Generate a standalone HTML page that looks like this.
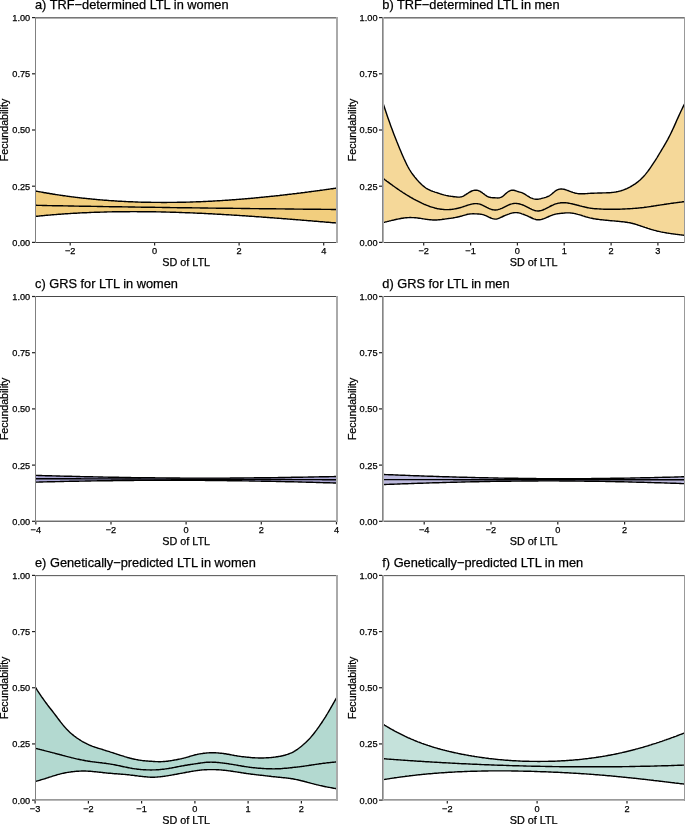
<!DOCTYPE html>
<html><head><meta charset="utf-8"><style>
html,body{margin:0;padding:0;background:#fff;width:685px;height:824px;overflow:hidden}
svg{display:block;will-change:transform}
text{font-family:"Liberation Sans",sans-serif;fill:#000000;stroke:#000000;stroke-width:0.25px}
</style></head><body>
<svg width="685" height="824" viewBox="0 0 685 824">
<rect x="0" y="0" width="685" height="824" fill="#fff"/>
<path d="M35.5,191.0L36.5,191.2L37.5,191.4L38.5,191.6L39.5,191.8L40.5,191.9L41.5,192.1L42.5,192.3L43.5,192.5L44.5,192.7L45.5,192.8L46.5,193.0L47.5,193.2L48.5,193.3L49.5,193.5L50.5,193.7L51.5,193.8L52.5,194.0L53.5,194.2L54.5,194.3L55.5,194.5L56.5,194.6L57.5,194.8L58.5,194.9L59.5,195.1L60.5,195.2L61.5,195.4L62.5,195.5L63.5,195.7L64.5,195.8L65.5,195.9L66.5,196.1L67.5,196.2L68.5,196.4L69.5,196.5L70.5,196.6L71.5,196.8L72.5,196.9L73.5,197.0L74.5,197.1L75.5,197.3L76.5,197.4L77.5,197.5L78.5,197.6L79.5,197.7L80.5,197.9L81.5,198.0L82.5,198.1L83.5,198.2L84.5,198.3L85.5,198.4L86.5,198.5L87.5,198.6L88.5,198.7L89.5,198.8L90.5,198.9L91.5,199.0L92.5,199.1L93.5,199.2L94.5,199.3L95.5,199.4L96.5,199.5L97.5,199.6L98.5,199.7L99.5,199.8L100.5,199.9L101.5,199.9L102.5,200.0L103.5,200.1L104.5,200.2L105.5,200.3L106.5,200.3L107.5,200.4L108.5,200.5L109.5,200.6L110.5,200.6L111.5,200.7L112.5,200.8L113.5,200.8L114.5,200.9L115.5,201.0L116.5,201.0L117.5,201.1L118.5,201.2L119.5,201.2L120.5,201.3L121.5,201.3L122.5,201.4L123.5,201.4L124.5,201.5L125.5,201.5L126.5,201.6L127.5,201.6L128.5,201.7L129.5,201.7L130.5,201.8L131.5,201.8L132.5,201.8L133.5,201.9L134.5,201.9L135.5,202.0L136.5,202.0L137.5,202.0L138.5,202.1L139.5,202.1L140.5,202.1L141.5,202.2L142.5,202.2L143.5,202.2L144.5,202.2L145.5,202.3L146.5,202.3L147.5,202.3L148.5,202.3L149.5,202.3L150.5,202.3L151.5,202.4L152.5,202.4L153.5,202.4L154.5,202.4L155.5,202.4L156.5,202.4L157.5,202.4L158.5,202.4L159.5,202.4L160.5,202.4L161.5,202.5L162.5,202.5L163.5,202.5L164.5,202.5L165.5,202.5L166.5,202.5L167.5,202.4L168.5,202.4L169.5,202.4L170.5,202.4L171.5,202.4L172.5,202.4L173.5,202.4L174.5,202.4L175.5,202.4L176.5,202.4L177.5,202.3L178.5,202.3L179.5,202.3L180.5,202.3L181.5,202.3L182.5,202.2L183.5,202.2L184.5,202.2L185.5,202.2L186.5,202.1L187.5,202.1L188.5,202.1L189.5,202.1L190.5,202.0L191.5,202.0L192.5,202.0L193.5,201.9L194.5,201.9L195.5,201.9L196.5,201.8L197.5,201.8L198.5,201.8L199.5,201.7L200.5,201.7L201.5,201.6L202.5,201.6L203.5,201.5L204.5,201.5L205.5,201.5L206.5,201.4L207.5,201.4L208.5,201.3L209.5,201.3L210.5,201.2L211.5,201.2L212.5,201.1L213.5,201.0L214.5,201.0L215.5,200.9L216.5,200.9L217.5,200.8L218.5,200.8L219.5,200.7L220.5,200.6L221.5,200.6L222.5,200.5L223.5,200.4L224.5,200.4L225.5,200.3L226.5,200.2L227.5,200.2L228.5,200.1L229.5,200.0L230.5,200.0L231.5,199.9L232.5,199.8L233.5,199.7L234.5,199.7L235.5,199.6L236.5,199.5L237.5,199.4L238.5,199.4L239.5,199.3L240.5,199.2L241.5,199.1L242.5,199.0L243.5,199.0L244.5,198.9L245.5,198.8L246.5,198.7L247.5,198.6L248.5,198.5L249.5,198.5L250.5,198.4L251.5,198.3L252.5,198.2L253.5,198.1L254.5,198.0L255.5,197.9L256.5,197.8L257.5,197.7L258.5,197.6L259.5,197.5L260.5,197.4L261.5,197.3L262.5,197.2L263.5,197.1L264.5,197.0L265.5,196.9L266.5,196.8L267.5,196.7L268.5,196.6L269.5,196.5L270.5,196.4L271.5,196.3L272.5,196.2L273.5,196.1L274.5,196.0L275.5,195.9L276.5,195.8L277.5,195.7L278.5,195.6L279.5,195.5L280.5,195.3L281.5,195.2L282.5,195.1L283.5,195.0L284.5,194.9L285.5,194.8L286.5,194.7L287.5,194.5L288.5,194.4L289.5,194.3L290.5,194.2L291.5,194.1L292.5,193.9L293.5,193.8L294.5,193.7L295.5,193.6L296.5,193.5L297.5,193.3L298.5,193.2L299.5,193.1L300.5,193.0L301.5,192.8L302.5,192.7L303.5,192.6L304.5,192.5L305.5,192.3L306.5,192.2L307.5,192.1L308.5,191.9L309.5,191.8L310.5,191.7L311.5,191.5L312.5,191.4L313.5,191.3L314.5,191.1L315.5,191.0L316.5,190.9L317.5,190.7L318.5,190.6L319.5,190.5L320.5,190.3L321.5,190.2L322.5,190.1L323.5,189.9L324.5,189.8L325.5,189.6L326.5,189.5L327.5,189.4L328.5,189.2L329.5,189.1L330.5,188.9L331.5,188.8L332.5,188.7L333.5,188.5L334.5,188.4L335.5,188.2L336.5,188.1L337.0,188.0L337.0,223.0L336.5,223.0L335.5,222.9L334.5,222.8L333.5,222.7L332.5,222.7L331.5,222.6L330.5,222.5L329.5,222.4L328.5,222.3L327.5,222.2L326.5,222.2L325.5,222.1L324.5,222.0L323.5,221.9L322.5,221.8L321.5,221.7L320.5,221.7L319.5,221.6L318.5,221.5L317.5,221.4L316.5,221.3L315.5,221.3L314.5,221.2L313.5,221.1L312.5,221.0L311.5,220.9L310.5,220.8L309.5,220.8L308.5,220.7L307.5,220.6L306.5,220.5L305.5,220.4L304.5,220.4L303.5,220.3L302.5,220.2L301.5,220.1L300.5,220.0L299.5,219.9L298.5,219.9L297.5,219.8L296.5,219.7L295.5,219.6L294.5,219.5L293.5,219.5L292.5,219.4L291.5,219.3L290.5,219.2L289.5,219.1L288.5,219.1L287.5,219.0L286.5,218.9L285.5,218.8L284.5,218.8L283.5,218.7L282.5,218.6L281.5,218.5L280.5,218.4L279.5,218.4L278.5,218.3L277.5,218.2L276.5,218.1L275.5,218.1L274.5,218.0L273.5,217.9L272.5,217.8L271.5,217.8L270.5,217.7L269.5,217.6L268.5,217.5L267.5,217.5L266.5,217.4L265.5,217.3L264.5,217.2L263.5,217.2L262.5,217.1L261.5,217.0L260.5,216.9L259.5,216.9L258.5,216.8L257.5,216.7L256.5,216.7L255.5,216.6L254.5,216.5L253.5,216.4L252.5,216.4L251.5,216.3L250.5,216.2L249.5,216.2L248.5,216.1L247.5,216.0L246.5,216.0L245.5,215.9L244.5,215.8L243.5,215.8L242.5,215.7L241.5,215.6L240.5,215.6L239.5,215.5L238.5,215.4L237.5,215.4L236.5,215.3L235.5,215.2L234.5,215.2L233.5,215.1L232.5,215.1L231.5,215.0L230.5,214.9L229.5,214.9L228.5,214.8L227.5,214.7L226.5,214.7L225.5,214.6L224.5,214.6L223.5,214.5L222.5,214.5L221.5,214.4L220.5,214.3L219.5,214.3L218.5,214.2L217.5,214.2L216.5,214.1L215.5,214.1L214.5,214.0L213.5,214.0L212.5,213.9L211.5,213.8L210.5,213.8L209.5,213.7L208.5,213.7L207.5,213.6L206.5,213.6L205.5,213.5L204.5,213.5L203.5,213.4L202.5,213.4L201.5,213.3L200.5,213.3L199.5,213.3L198.5,213.2L197.5,213.2L196.5,213.1L195.5,213.1L194.5,213.0L193.5,213.0L192.5,212.9L191.5,212.9L190.5,212.9L189.5,212.8L188.5,212.8L187.5,212.7L186.5,212.7L185.5,212.7L184.5,212.6L183.5,212.6L182.5,212.6L181.5,212.5L180.5,212.5L179.5,212.5L178.5,212.4L177.5,212.4L176.5,212.4L175.5,212.3L174.5,212.3L173.5,212.3L172.5,212.2L171.5,212.2L170.5,212.2L169.5,212.1L168.5,212.1L167.5,212.1L166.5,212.1L165.5,212.0L164.5,212.0L163.5,212.0L162.5,212.0L161.5,212.0L160.5,211.9L159.5,211.9L158.5,211.9L157.5,211.9L156.5,211.9L155.5,211.8L154.5,211.8L153.5,211.8L152.5,211.8L151.5,211.8L150.5,211.8L149.5,211.7L148.5,211.7L147.5,211.7L146.5,211.7L145.5,211.7L144.5,211.7L143.5,211.7L142.5,211.7L141.5,211.7L140.5,211.7L139.5,211.7L138.5,211.7L137.5,211.7L136.5,211.6L135.5,211.6L134.5,211.6L133.5,211.6L132.5,211.6L131.5,211.6L130.5,211.6L129.5,211.7L128.5,211.7L127.5,211.7L126.5,211.7L125.5,211.7L124.5,211.7L123.5,211.7L122.5,211.7L121.5,211.7L120.5,211.7L119.5,211.7L118.5,211.7L117.5,211.8L116.5,211.8L115.5,211.8L114.5,211.8L113.5,211.8L112.5,211.8L111.5,211.9L110.5,211.9L109.5,211.9L108.5,211.9L107.5,211.9L106.5,212.0L105.5,212.0L104.5,212.0L103.5,212.1L102.5,212.1L101.5,212.1L100.5,212.1L99.5,212.2L98.5,212.2L97.5,212.2L96.5,212.3L95.5,212.3L94.5,212.3L93.5,212.4L92.5,212.4L91.5,212.4L90.5,212.5L89.5,212.5L88.5,212.6L87.5,212.6L86.5,212.7L85.5,212.7L84.5,212.8L83.5,212.8L82.5,212.8L81.5,212.9L80.5,212.9L79.5,213.0L78.5,213.0L77.5,213.1L76.5,213.2L75.5,213.2L74.5,213.3L73.5,213.3L72.5,213.4L71.5,213.4L70.5,213.5L69.5,213.6L68.5,213.6L67.5,213.7L66.5,213.8L65.5,213.8L64.5,213.9L63.5,214.0L62.5,214.0L61.5,214.1L60.5,214.2L59.5,214.3L58.5,214.3L57.5,214.4L56.5,214.5L55.5,214.6L54.5,214.6L53.5,214.7L52.5,214.8L51.5,214.9L50.5,215.0L49.5,215.1L48.5,215.1L47.5,215.2L46.5,215.3L45.5,215.4L44.5,215.5L43.5,215.6L42.5,215.7L41.5,215.8L40.5,215.9L39.5,216.0L38.5,216.1L37.5,216.2L36.5,216.3L35.5,216.4Z" fill="#F2CE7E" stroke="none"/>
<path d="M35.5,191.0L36.5,191.2L37.5,191.4L38.5,191.6L39.5,191.8L40.5,191.9L41.5,192.1L42.5,192.3L43.5,192.5L44.5,192.7L45.5,192.8L46.5,193.0L47.5,193.2L48.5,193.3L49.5,193.5L50.5,193.7L51.5,193.8L52.5,194.0L53.5,194.2L54.5,194.3L55.5,194.5L56.5,194.6L57.5,194.8L58.5,194.9L59.5,195.1L60.5,195.2L61.5,195.4L62.5,195.5L63.5,195.7L64.5,195.8L65.5,195.9L66.5,196.1L67.5,196.2L68.5,196.4L69.5,196.5L70.5,196.6L71.5,196.8L72.5,196.9L73.5,197.0L74.5,197.1L75.5,197.3L76.5,197.4L77.5,197.5L78.5,197.6L79.5,197.7L80.5,197.9L81.5,198.0L82.5,198.1L83.5,198.2L84.5,198.3L85.5,198.4L86.5,198.5L87.5,198.6L88.5,198.7L89.5,198.8L90.5,198.9L91.5,199.0L92.5,199.1L93.5,199.2L94.5,199.3L95.5,199.4L96.5,199.5L97.5,199.6L98.5,199.7L99.5,199.8L100.5,199.9L101.5,199.9L102.5,200.0L103.5,200.1L104.5,200.2L105.5,200.3L106.5,200.3L107.5,200.4L108.5,200.5L109.5,200.6L110.5,200.6L111.5,200.7L112.5,200.8L113.5,200.8L114.5,200.9L115.5,201.0L116.5,201.0L117.5,201.1L118.5,201.2L119.5,201.2L120.5,201.3L121.5,201.3L122.5,201.4L123.5,201.4L124.5,201.5L125.5,201.5L126.5,201.6L127.5,201.6L128.5,201.7L129.5,201.7L130.5,201.8L131.5,201.8L132.5,201.8L133.5,201.9L134.5,201.9L135.5,202.0L136.5,202.0L137.5,202.0L138.5,202.1L139.5,202.1L140.5,202.1L141.5,202.2L142.5,202.2L143.5,202.2L144.5,202.2L145.5,202.3L146.5,202.3L147.5,202.3L148.5,202.3L149.5,202.3L150.5,202.3L151.5,202.4L152.5,202.4L153.5,202.4L154.5,202.4L155.5,202.4L156.5,202.4L157.5,202.4L158.5,202.4L159.5,202.4L160.5,202.4L161.5,202.5L162.5,202.5L163.5,202.5L164.5,202.5L165.5,202.5L166.5,202.5L167.5,202.4L168.5,202.4L169.5,202.4L170.5,202.4L171.5,202.4L172.5,202.4L173.5,202.4L174.5,202.4L175.5,202.4L176.5,202.4L177.5,202.3L178.5,202.3L179.5,202.3L180.5,202.3L181.5,202.3L182.5,202.2L183.5,202.2L184.5,202.2L185.5,202.2L186.5,202.1L187.5,202.1L188.5,202.1L189.5,202.1L190.5,202.0L191.5,202.0L192.5,202.0L193.5,201.9L194.5,201.9L195.5,201.9L196.5,201.8L197.5,201.8L198.5,201.8L199.5,201.7L200.5,201.7L201.5,201.6L202.5,201.6L203.5,201.5L204.5,201.5L205.5,201.5L206.5,201.4L207.5,201.4L208.5,201.3L209.5,201.3L210.5,201.2L211.5,201.2L212.5,201.1L213.5,201.0L214.5,201.0L215.5,200.9L216.5,200.9L217.5,200.8L218.5,200.8L219.5,200.7L220.5,200.6L221.5,200.6L222.5,200.5L223.5,200.4L224.5,200.4L225.5,200.3L226.5,200.2L227.5,200.2L228.5,200.1L229.5,200.0L230.5,200.0L231.5,199.9L232.5,199.8L233.5,199.7L234.5,199.7L235.5,199.6L236.5,199.5L237.5,199.4L238.5,199.4L239.5,199.3L240.5,199.2L241.5,199.1L242.5,199.0L243.5,199.0L244.5,198.9L245.5,198.8L246.5,198.7L247.5,198.6L248.5,198.5L249.5,198.5L250.5,198.4L251.5,198.3L252.5,198.2L253.5,198.1L254.5,198.0L255.5,197.9L256.5,197.8L257.5,197.7L258.5,197.6L259.5,197.5L260.5,197.4L261.5,197.3L262.5,197.2L263.5,197.1L264.5,197.0L265.5,196.9L266.5,196.8L267.5,196.7L268.5,196.6L269.5,196.5L270.5,196.4L271.5,196.3L272.5,196.2L273.5,196.1L274.5,196.0L275.5,195.9L276.5,195.8L277.5,195.7L278.5,195.6L279.5,195.5L280.5,195.3L281.5,195.2L282.5,195.1L283.5,195.0L284.5,194.9L285.5,194.8L286.5,194.7L287.5,194.5L288.5,194.4L289.5,194.3L290.5,194.2L291.5,194.1L292.5,193.9L293.5,193.8L294.5,193.7L295.5,193.6L296.5,193.5L297.5,193.3L298.5,193.2L299.5,193.1L300.5,193.0L301.5,192.8L302.5,192.7L303.5,192.6L304.5,192.5L305.5,192.3L306.5,192.2L307.5,192.1L308.5,191.9L309.5,191.8L310.5,191.7L311.5,191.5L312.5,191.4L313.5,191.3L314.5,191.1L315.5,191.0L316.5,190.9L317.5,190.7L318.5,190.6L319.5,190.5L320.5,190.3L321.5,190.2L322.5,190.1L323.5,189.9L324.5,189.8L325.5,189.6L326.5,189.5L327.5,189.4L328.5,189.2L329.5,189.1L330.5,188.9L331.5,188.8L332.5,188.7L333.5,188.5L334.5,188.4L335.5,188.2L336.5,188.1L337.0,188.0" fill="none" stroke="#000000" stroke-width="1.4" stroke-linejoin="round"/>
<path d="M35.5,216.4L36.5,216.3L37.5,216.2L38.5,216.1L39.5,216.0L40.5,215.9L41.5,215.8L42.5,215.7L43.5,215.6L44.5,215.5L45.5,215.4L46.5,215.3L47.5,215.2L48.5,215.1L49.5,215.1L50.5,215.0L51.5,214.9L52.5,214.8L53.5,214.7L54.5,214.6L55.5,214.6L56.5,214.5L57.5,214.4L58.5,214.3L59.5,214.3L60.5,214.2L61.5,214.1L62.5,214.0L63.5,214.0L64.5,213.9L65.5,213.8L66.5,213.8L67.5,213.7L68.5,213.6L69.5,213.6L70.5,213.5L71.5,213.4L72.5,213.4L73.5,213.3L74.5,213.3L75.5,213.2L76.5,213.2L77.5,213.1L78.5,213.0L79.5,213.0L80.5,212.9L81.5,212.9L82.5,212.8L83.5,212.8L84.5,212.8L85.5,212.7L86.5,212.7L87.5,212.6L88.5,212.6L89.5,212.5L90.5,212.5L91.5,212.4L92.5,212.4L93.5,212.4L94.5,212.3L95.5,212.3L96.5,212.3L97.5,212.2L98.5,212.2L99.5,212.2L100.5,212.1L101.5,212.1L102.5,212.1L103.5,212.1L104.5,212.0L105.5,212.0L106.5,212.0L107.5,211.9L108.5,211.9L109.5,211.9L110.5,211.9L111.5,211.9L112.5,211.8L113.5,211.8L114.5,211.8L115.5,211.8L116.5,211.8L117.5,211.8L118.5,211.7L119.5,211.7L120.5,211.7L121.5,211.7L122.5,211.7L123.5,211.7L124.5,211.7L125.5,211.7L126.5,211.7L127.5,211.7L128.5,211.7L129.5,211.7L130.5,211.6L131.5,211.6L132.5,211.6L133.5,211.6L134.5,211.6L135.5,211.6L136.5,211.6L137.5,211.7L138.5,211.7L139.5,211.7L140.5,211.7L141.5,211.7L142.5,211.7L143.5,211.7L144.5,211.7L145.5,211.7L146.5,211.7L147.5,211.7L148.5,211.7L149.5,211.7L150.5,211.8L151.5,211.8L152.5,211.8L153.5,211.8L154.5,211.8L155.5,211.8L156.5,211.9L157.5,211.9L158.5,211.9L159.5,211.9L160.5,211.9L161.5,212.0L162.5,212.0L163.5,212.0L164.5,212.0L165.5,212.0L166.5,212.1L167.5,212.1L168.5,212.1L169.5,212.1L170.5,212.2L171.5,212.2L172.5,212.2L173.5,212.3L174.5,212.3L175.5,212.3L176.5,212.4L177.5,212.4L178.5,212.4L179.5,212.5L180.5,212.5L181.5,212.5L182.5,212.6L183.5,212.6L184.5,212.6L185.5,212.7L186.5,212.7L187.5,212.7L188.5,212.8L189.5,212.8L190.5,212.9L191.5,212.9L192.5,212.9L193.5,213.0L194.5,213.0L195.5,213.1L196.5,213.1L197.5,213.2L198.5,213.2L199.5,213.3L200.5,213.3L201.5,213.3L202.5,213.4L203.5,213.4L204.5,213.5L205.5,213.5L206.5,213.6L207.5,213.6L208.5,213.7L209.5,213.7L210.5,213.8L211.5,213.8L212.5,213.9L213.5,214.0L214.5,214.0L215.5,214.1L216.5,214.1L217.5,214.2L218.5,214.2L219.5,214.3L220.5,214.3L221.5,214.4L222.5,214.5L223.5,214.5L224.5,214.6L225.5,214.6L226.5,214.7L227.5,214.7L228.5,214.8L229.5,214.9L230.5,214.9L231.5,215.0L232.5,215.1L233.5,215.1L234.5,215.2L235.5,215.2L236.5,215.3L237.5,215.4L238.5,215.4L239.5,215.5L240.5,215.6L241.5,215.6L242.5,215.7L243.5,215.8L244.5,215.8L245.5,215.9L246.5,216.0L247.5,216.0L248.5,216.1L249.5,216.2L250.5,216.2L251.5,216.3L252.5,216.4L253.5,216.4L254.5,216.5L255.5,216.6L256.5,216.7L257.5,216.7L258.5,216.8L259.5,216.9L260.5,216.9L261.5,217.0L262.5,217.1L263.5,217.2L264.5,217.2L265.5,217.3L266.5,217.4L267.5,217.5L268.5,217.5L269.5,217.6L270.5,217.7L271.5,217.8L272.5,217.8L273.5,217.9L274.5,218.0L275.5,218.1L276.5,218.1L277.5,218.2L278.5,218.3L279.5,218.4L280.5,218.4L281.5,218.5L282.5,218.6L283.5,218.7L284.5,218.8L285.5,218.8L286.5,218.9L287.5,219.0L288.5,219.1L289.5,219.1L290.5,219.2L291.5,219.3L292.5,219.4L293.5,219.5L294.5,219.5L295.5,219.6L296.5,219.7L297.5,219.8L298.5,219.9L299.5,219.9L300.5,220.0L301.5,220.1L302.5,220.2L303.5,220.3L304.5,220.4L305.5,220.4L306.5,220.5L307.5,220.6L308.5,220.7L309.5,220.8L310.5,220.8L311.5,220.9L312.5,221.0L313.5,221.1L314.5,221.2L315.5,221.3L316.5,221.3L317.5,221.4L318.5,221.5L319.5,221.6L320.5,221.7L321.5,221.7L322.5,221.8L323.5,221.9L324.5,222.0L325.5,222.1L326.5,222.2L327.5,222.2L328.5,222.3L329.5,222.4L330.5,222.5L331.5,222.6L332.5,222.7L333.5,222.7L334.5,222.8L335.5,222.9L336.5,223.0L337.0,223.0" fill="none" stroke="#000000" stroke-width="1.4" stroke-linejoin="round"/>
<path d="M35.5,205.3L36.5,205.3L37.5,205.4L38.5,205.4L39.5,205.4L40.5,205.4L41.5,205.4L42.5,205.5L43.5,205.5L44.5,205.5L45.5,205.5L46.5,205.5L47.5,205.6L48.5,205.6L49.5,205.6L50.5,205.6L51.5,205.6L52.5,205.7L53.5,205.7L54.5,205.7L55.5,205.7L56.5,205.7L57.5,205.7L58.5,205.8L59.5,205.8L60.5,205.8L61.5,205.8L62.5,205.8L63.5,205.9L64.5,205.9L65.5,205.9L66.5,205.9L67.5,205.9L68.5,206.0L69.5,206.0L70.5,206.0L71.5,206.0L72.5,206.0L73.5,206.0L74.5,206.1L75.5,206.1L76.5,206.1L77.5,206.1L78.5,206.1L79.5,206.2L80.5,206.2L81.5,206.2L82.5,206.2L83.5,206.2L84.5,206.2L85.5,206.3L86.5,206.3L87.5,206.3L88.5,206.3L89.5,206.3L90.5,206.3L91.5,206.4L92.5,206.4L93.5,206.4L94.5,206.4L95.5,206.4L96.5,206.4L97.5,206.5L98.5,206.5L99.5,206.5L100.5,206.5L101.5,206.5L102.5,206.5L103.5,206.6L104.5,206.6L105.5,206.6L106.5,206.6L107.5,206.6L108.5,206.6L109.5,206.7L110.5,206.7L111.5,206.7L112.5,206.7L113.5,206.7L114.5,206.7L115.5,206.8L116.5,206.8L117.5,206.8L118.5,206.8L119.5,206.8L120.5,206.8L121.5,206.8L122.5,206.9L123.5,206.9L124.5,206.9L125.5,206.9L126.5,206.9L127.5,206.9L128.5,207.0L129.5,207.0L130.5,207.0L131.5,207.0L132.5,207.0L133.5,207.0L134.5,207.0L135.5,207.1L136.5,207.1L137.5,207.1L138.5,207.1L139.5,207.1L140.5,207.1L141.5,207.2L142.5,207.2L143.5,207.2L144.5,207.2L145.5,207.2L146.5,207.2L147.5,207.2L148.5,207.3L149.5,207.3L150.5,207.3L151.5,207.3L152.5,207.3L153.5,207.3L154.5,207.3L155.5,207.4L156.5,207.4L157.5,207.4L158.5,207.4L159.5,207.4L160.5,207.4L161.5,207.4L162.5,207.5L163.5,207.5L164.5,207.5L165.5,207.5L166.5,207.5L167.5,207.5L168.5,207.5L169.5,207.5L170.5,207.6L171.5,207.6L172.5,207.6L173.5,207.6L174.5,207.6L175.5,207.6L176.5,207.6L177.5,207.7L178.5,207.7L179.5,207.7L180.5,207.7L181.5,207.7L182.5,207.7L183.5,207.7L184.5,207.7L185.5,207.8L186.5,207.8L187.5,207.8L188.5,207.8L189.5,207.8L190.5,207.8L191.5,207.8L192.5,207.9L193.5,207.9L194.5,207.9L195.5,207.9L196.5,207.9L197.5,207.9L198.5,207.9L199.5,207.9L200.5,208.0L201.5,208.0L202.5,208.0L203.5,208.0L204.5,208.0L205.5,208.0L206.5,208.0L207.5,208.0L208.5,208.1L209.5,208.1L210.5,208.1L211.5,208.1L212.5,208.1L213.5,208.1L214.5,208.1L215.5,208.1L216.5,208.2L217.5,208.2L218.5,208.2L219.5,208.2L220.5,208.2L221.5,208.2L222.5,208.2L223.5,208.2L224.5,208.3L225.5,208.3L226.5,208.3L227.5,208.3L228.5,208.3L229.5,208.3L230.5,208.3L231.5,208.3L232.5,208.3L233.5,208.4L234.5,208.4L235.5,208.4L236.5,208.4L237.5,208.4L238.5,208.4L239.5,208.4L240.5,208.4L241.5,208.5L242.5,208.5L243.5,208.5L244.5,208.5L245.5,208.5L246.5,208.5L247.5,208.5L248.5,208.5L249.5,208.5L250.5,208.6L251.5,208.6L252.5,208.6L253.5,208.6L254.5,208.6L255.5,208.6L256.5,208.6L257.5,208.6L258.5,208.6L259.5,208.7L260.5,208.7L261.5,208.7L262.5,208.7L263.5,208.7L264.5,208.7L265.5,208.7L266.5,208.7L267.5,208.8L268.5,208.8L269.5,208.8L270.5,208.8L271.5,208.8L272.5,208.8L273.5,208.8L274.5,208.8L275.5,208.8L276.5,208.9L277.5,208.9L278.5,208.9L279.5,208.9L280.5,208.9L281.5,208.9L282.5,208.9L283.5,208.9L284.5,208.9L285.5,209.0L286.5,209.0L287.5,209.0L288.5,209.0L289.5,209.0L290.5,209.0L291.5,209.0L292.5,209.0L293.5,209.0L294.5,209.1L295.5,209.1L296.5,209.1L297.5,209.1L298.5,209.1L299.5,209.1L300.5,209.1L301.5,209.1L302.5,209.1L303.5,209.2L304.5,209.2L305.5,209.2L306.5,209.2L307.5,209.2L308.5,209.2L309.5,209.2L310.5,209.2L311.5,209.2L312.5,209.3L313.5,209.3L314.5,209.3L315.5,209.3L316.5,209.3L317.5,209.3L318.5,209.3L319.5,209.3L320.5,209.3L321.5,209.4L322.5,209.4L323.5,209.4L324.5,209.4L325.5,209.4L326.5,209.4L327.5,209.4L328.5,209.4L329.5,209.4L330.5,209.4L331.5,209.5L332.5,209.5L333.5,209.5L334.5,209.5L335.5,209.5L336.5,209.5L337.0,209.5" fill="none" stroke="#000000" stroke-width="1.4" stroke-linejoin="round"/>
<rect x="35" y="17" width="303" height="1" fill="#777777"/>
<rect x="35" y="18" width="303" height="1" fill="#b0b0b0"/>
<rect x="35" y="242" width="303" height="1" fill="#444444"/>
<rect x="35" y="17" width="1" height="226" fill="#808080"/>
<rect x="336" y="17" width="1" height="226" fill="#aaaaaa"/>
<rect x="337" y="17" width="1" height="226" fill="#aaaaaa"/>
<line x1="32.0" y1="242.40" x2="35.0" y2="242.40" stroke="#222" stroke-width="1.2"/>
<text x="30.2" y="245.8" font-size="9.2" text-anchor="end">0.00</text>
<line x1="32.0" y1="186.20" x2="35.0" y2="186.20" stroke="#222" stroke-width="1.2"/>
<text x="30.2" y="189.6" font-size="9.2" text-anchor="end">0.25</text>
<line x1="32.0" y1="130.00" x2="35.0" y2="130.00" stroke="#222" stroke-width="1.2"/>
<text x="30.2" y="133.4" font-size="9.2" text-anchor="end">0.50</text>
<line x1="32.0" y1="73.80" x2="35.0" y2="73.80" stroke="#222" stroke-width="1.2"/>
<text x="30.2" y="77.2" font-size="9.2" text-anchor="end">0.75</text>
<line x1="32.0" y1="17.60" x2="35.0" y2="17.60" stroke="#222" stroke-width="1.2"/>
<text x="30.2" y="21.0" font-size="9.2" text-anchor="end">1.00</text>
<line x1="70.2" y1="243.0" x2="70.2" y2="245.4" stroke="#222" stroke-width="1.2"/>
<text x="70.2" y="254.1" font-size="9.2" text-anchor="middle">−2</text>
<line x1="154.6" y1="243.0" x2="154.6" y2="245.4" stroke="#222" stroke-width="1.2"/>
<text x="154.6" y="254.1" font-size="9.2" text-anchor="middle">0</text>
<line x1="239.1" y1="243.0" x2="239.1" y2="245.4" stroke="#222" stroke-width="1.2"/>
<text x="239.1" y="254.1" font-size="9.2" text-anchor="middle">2</text>
<line x1="323.7" y1="243.0" x2="323.7" y2="245.4" stroke="#222" stroke-width="1.2"/>
<text x="323.7" y="254.1" font-size="9.2" text-anchor="middle">4</text>
<text x="186.2" y="266.2" font-size="10.8" text-anchor="middle">SD of LTL</text>
<text transform="translate(7.8,130.0) rotate(-90)" font-size="10.6" text-anchor="middle">Fecundability</text>
<text x="35.0" y="9.3" font-size="12.8">a) TRF−determined LTL in women</text>
<path d="M382.8,102.5L383.8,105.5L384.8,108.5L385.8,111.5L386.8,114.5L387.8,117.4L388.8,120.3L389.8,123.1L390.8,125.9L391.8,128.6L392.8,131.3L393.8,133.9L394.8,136.5L395.8,139.0L396.8,141.6L397.8,144.0L398.8,146.5L399.8,148.9L400.8,151.3L401.8,153.7L402.8,156.0L403.8,158.3L404.8,160.4L405.8,162.5L406.8,164.6L407.8,166.5L408.8,168.3L409.8,170.0L410.8,171.6L411.8,173.1L412.8,174.5L413.8,175.8L414.8,177.1L415.8,178.3L416.8,179.5L417.8,180.6L418.8,181.7L419.8,182.7L420.8,183.7L421.8,184.7L422.8,185.6L423.8,186.4L424.8,187.2L425.8,188.0L426.8,188.6L427.8,189.2L428.8,189.7L429.8,190.2L430.8,190.7L431.8,191.0L432.8,191.4L433.8,191.7L434.8,192.1L435.8,192.4L436.8,192.7L437.8,193.0L438.8,193.3L439.8,193.7L440.8,194.0L441.8,194.3L442.8,194.6L443.8,194.9L444.8,195.1L445.8,195.4L446.8,195.6L447.8,195.8L448.8,196.0L449.8,196.1L450.8,196.3L451.8,196.4L452.8,196.5L453.8,196.7L454.8,196.8L455.8,196.9L456.8,197.0L457.8,197.1L458.8,197.1L459.8,197.1L460.8,196.9L461.8,196.7L462.8,196.3L463.8,195.8L464.8,195.2L465.8,194.6L466.8,193.9L467.8,193.3L468.8,192.6L469.8,192.0L470.8,191.5L471.8,191.0L472.8,190.7L473.8,190.4L474.8,190.2L475.8,190.1L476.8,190.2L477.8,190.4L478.8,190.8L479.8,191.2L480.8,191.8L481.8,192.4L482.8,193.2L483.8,193.9L484.8,194.7L485.8,195.4L486.8,196.1L487.8,196.6L488.8,197.1L489.8,197.3L490.8,197.5L491.8,197.6L492.8,197.7L493.8,197.8L494.8,197.8L495.8,197.9L496.8,197.9L497.8,198.0L498.8,197.9L499.8,197.7L500.8,197.4L501.8,196.9L502.8,196.3L503.8,195.4L504.8,194.5L505.8,193.6L506.8,192.8L507.8,192.0L508.8,191.3L509.8,190.8L510.8,190.4L511.8,190.2L512.8,190.1L513.8,190.3L514.8,190.5L515.8,190.8L516.8,191.2L517.8,191.5L518.8,191.8L519.8,192.1L520.8,192.4L521.8,192.7L522.8,193.1L523.8,193.6L524.8,194.2L525.8,194.8L526.8,195.5L527.8,196.1L528.8,196.7L529.8,197.3L530.8,197.8L531.8,198.2L532.8,198.6L533.8,198.9L534.8,199.1L535.8,199.2L536.8,199.2L537.8,199.2L538.8,199.1L539.8,198.9L540.8,198.7L541.8,198.4L542.8,198.1L543.8,197.9L544.8,197.6L545.8,197.3L546.8,196.9L547.8,196.5L548.8,196.1L549.8,195.5L550.8,194.8L551.8,194.0L552.8,193.1L553.8,192.3L554.8,191.4L555.8,190.7L556.8,190.1L557.8,189.7L558.8,189.3L559.8,189.1L560.8,189.0L561.8,189.0L562.8,189.1L563.8,189.2L564.8,189.5L565.8,189.8L566.8,190.2L567.8,190.5L568.8,190.9L569.8,191.3L570.8,191.7L571.8,192.0L572.8,192.4L573.8,192.7L574.8,193.0L575.8,193.2L576.8,193.4L577.8,193.6L578.8,193.7L579.8,193.7L580.8,193.8L581.8,193.8L582.8,193.8L583.8,193.7L584.8,193.7L585.8,193.6L586.8,193.6L587.8,193.5L588.8,193.4L589.8,193.4L590.8,193.3L591.8,193.3L592.8,193.2L593.8,193.2L594.8,193.1L595.8,193.1L596.8,193.1L597.8,193.0L598.8,193.0L599.8,193.0L600.8,193.0L601.8,193.0L602.8,192.9L603.8,192.9L604.8,192.9L605.8,192.9L606.8,192.8L607.8,192.8L608.8,192.7L609.8,192.7L610.8,192.6L611.8,192.5L612.8,192.4L613.8,192.3L614.8,192.1L615.8,192.0L616.8,191.8L617.8,191.6L618.8,191.3L619.8,191.1L620.8,190.8L621.8,190.5L622.8,190.2L623.8,189.8L624.8,189.4L625.8,189.0L626.8,188.6L627.8,188.1L628.8,187.6L629.8,187.1L630.8,186.5L631.8,186.0L632.8,185.3L633.8,184.7L634.8,184.1L635.8,183.4L636.8,182.6L637.8,181.9L638.8,181.0L639.8,180.2L640.8,179.3L641.8,178.3L642.8,177.3L643.8,176.2L644.8,175.1L645.8,173.9L646.8,172.6L647.8,171.4L648.8,170.0L649.8,168.6L650.8,167.2L651.8,165.7L652.8,164.2L653.8,162.7L654.8,161.2L655.8,159.6L656.8,158.0L657.8,156.3L658.8,154.7L659.8,153.0L660.8,151.4L661.8,149.7L662.8,148.0L663.8,146.3L664.8,144.6L665.8,142.9L666.8,141.1L667.8,139.3L668.8,137.4L669.8,135.5L670.8,133.5L671.8,131.4L672.8,129.3L673.8,127.1L674.8,124.9L675.8,122.6L676.8,120.3L677.8,118.1L678.8,115.9L679.8,113.7L680.8,111.5L681.8,109.5L682.8,107.4L683.8,105.4L684.5,104.0L684.5,235.3L683.8,235.2L682.8,235.1L681.8,235.0L680.8,234.9L679.8,234.8L678.8,234.6L677.8,234.5L676.8,234.4L675.8,234.3L674.8,234.1L673.8,234.0L672.8,233.9L671.8,233.7L670.8,233.6L669.8,233.4L668.8,233.3L667.8,233.1L666.8,233.0L665.8,232.8L664.8,232.6L663.8,232.4L662.8,232.3L661.8,232.1L660.8,231.9L659.8,231.6L658.8,231.4L657.8,231.2L656.8,231.0L655.8,230.7L654.8,230.4L653.8,230.2L652.8,229.9L651.8,229.6L650.8,229.3L649.8,229.0L648.8,228.7L647.8,228.4L646.8,228.0L645.8,227.7L644.8,227.4L643.8,227.0L642.8,226.7L641.8,226.3L640.8,226.0L639.8,225.6L638.8,225.3L637.8,225.0L636.8,224.6L635.8,224.3L634.8,224.0L633.8,223.8L632.8,223.5L631.8,223.3L630.8,223.0L629.8,222.8L628.8,222.6L627.8,222.5L626.8,222.3L625.8,222.2L624.8,222.0L623.8,221.9L622.8,221.8L621.8,221.7L620.8,221.6L619.8,221.5L618.8,221.4L617.8,221.3L616.8,221.2L615.8,221.1L614.8,221.0L613.8,220.9L612.8,220.9L611.8,220.8L610.8,220.7L609.8,220.6L608.8,220.5L607.8,220.4L606.8,220.3L605.8,220.2L604.8,220.1L603.8,220.0L602.8,219.9L601.8,219.8L600.8,219.7L599.8,219.6L598.8,219.4L597.8,219.3L596.8,219.2L595.8,219.0L594.8,218.9L593.8,218.7L592.8,218.5L591.8,218.3L590.8,218.1L589.8,217.9L588.8,217.6L587.8,217.3L586.8,217.1L585.8,216.8L584.8,216.5L583.8,216.2L582.8,215.9L581.8,215.5L580.8,215.2L579.8,214.9L578.8,214.6L577.8,214.4L576.8,214.1L575.8,213.8L574.8,213.6L573.8,213.4L572.8,213.2L571.8,213.1L570.8,213.0L569.8,212.9L568.8,212.9L567.8,212.9L566.8,212.9L565.8,212.9L564.8,213.0L563.8,213.1L562.8,213.2L561.8,213.3L560.8,213.4L559.8,213.5L558.8,213.6L557.8,213.7L556.8,213.9L555.8,214.1L554.8,214.3L553.8,214.6L552.8,214.9L551.8,215.3L550.8,215.7L549.8,216.1L548.8,216.5L547.8,217.0L546.8,217.4L545.8,217.9L544.8,218.3L543.8,218.7L542.8,219.0L541.8,219.3L540.8,219.6L539.8,219.8L538.8,219.8L537.8,219.8L536.8,219.7L535.8,219.5L534.8,219.2L533.8,218.9L532.8,218.5L531.8,218.0L530.8,217.5L529.8,217.0L528.8,216.6L527.8,216.1L526.8,215.7L525.8,215.3L524.8,214.9L523.8,214.5L522.8,214.1L521.8,213.8L520.8,213.4L519.8,213.1L518.8,212.9L517.8,212.7L516.8,212.6L515.8,212.6L514.8,212.6L513.8,212.7L512.8,212.9L511.8,213.1L510.8,213.4L509.8,213.7L508.8,214.1L507.8,214.4L506.8,214.8L505.8,215.2L504.8,215.6L503.8,216.0L502.8,216.5L501.8,217.0L500.8,217.4L499.8,217.9L498.8,218.3L497.8,218.7L496.8,219.0L495.8,219.1L494.8,219.1L493.8,218.9L492.8,218.7L491.8,218.4L490.8,218.0L489.8,217.5L488.8,217.1L487.8,216.6L486.8,216.1L485.8,215.7L484.8,215.3L483.8,214.9L482.8,214.6L481.8,214.4L480.8,214.2L479.8,214.1L478.8,214.0L477.8,214.0L476.8,213.9L475.8,213.9L474.8,213.9L473.8,213.8L472.8,213.8L471.8,213.9L470.8,213.9L469.8,214.0L468.8,214.1L467.8,214.3L466.8,214.5L465.8,214.8L464.8,215.1L463.8,215.4L462.8,215.7L461.8,216.0L460.8,216.2L459.8,216.5L458.8,216.8L457.8,217.0L456.8,217.2L455.8,217.4L454.8,217.6L453.8,217.8L452.8,218.0L451.8,218.1L450.8,218.3L449.8,218.4L448.8,218.5L447.8,218.6L446.8,218.8L445.8,218.9L444.8,219.1L443.8,219.2L442.8,219.3L441.8,219.5L440.8,219.6L439.8,219.7L438.8,219.8L437.8,219.9L436.8,220.0L435.8,220.0L434.8,220.0L433.8,220.0L432.8,220.0L431.8,219.9L430.8,219.8L429.8,219.7L428.8,219.6L427.8,219.5L426.8,219.4L425.8,219.2L424.8,219.1L423.8,218.9L422.8,218.8L421.8,218.6L420.8,218.4L419.8,218.3L418.8,218.2L417.8,218.0L416.8,217.9L415.8,217.8L414.8,217.7L413.8,217.6L412.8,217.6L411.8,217.6L410.8,217.5L409.8,217.5L408.8,217.6L407.8,217.6L406.8,217.7L405.8,217.8L404.8,217.9L403.8,218.0L402.8,218.2L401.8,218.3L400.8,218.5L399.8,218.7L398.8,218.9L397.8,219.1L396.8,219.3L395.8,219.5L394.8,219.7L393.8,220.0L392.8,220.2L391.8,220.4L390.8,220.7L389.8,220.9L388.8,221.2L387.8,221.4L386.8,221.7L385.8,221.9L384.8,222.2L383.8,222.4L382.8,222.7Z" fill="#F5D899" stroke="none"/>
<path d="M382.8,102.5L383.8,105.5L384.8,108.5L385.8,111.5L386.8,114.5L387.8,117.4L388.8,120.3L389.8,123.1L390.8,125.9L391.8,128.6L392.8,131.3L393.8,133.9L394.8,136.5L395.8,139.0L396.8,141.6L397.8,144.0L398.8,146.5L399.8,148.9L400.8,151.3L401.8,153.7L402.8,156.0L403.8,158.3L404.8,160.4L405.8,162.5L406.8,164.6L407.8,166.5L408.8,168.3L409.8,170.0L410.8,171.6L411.8,173.1L412.8,174.5L413.8,175.8L414.8,177.1L415.8,178.3L416.8,179.5L417.8,180.6L418.8,181.7L419.8,182.7L420.8,183.7L421.8,184.7L422.8,185.6L423.8,186.4L424.8,187.2L425.8,188.0L426.8,188.6L427.8,189.2L428.8,189.7L429.8,190.2L430.8,190.7L431.8,191.0L432.8,191.4L433.8,191.7L434.8,192.1L435.8,192.4L436.8,192.7L437.8,193.0L438.8,193.3L439.8,193.7L440.8,194.0L441.8,194.3L442.8,194.6L443.8,194.9L444.8,195.1L445.8,195.4L446.8,195.6L447.8,195.8L448.8,196.0L449.8,196.1L450.8,196.3L451.8,196.4L452.8,196.5L453.8,196.7L454.8,196.8L455.8,196.9L456.8,197.0L457.8,197.1L458.8,197.1L459.8,197.1L460.8,196.9L461.8,196.7L462.8,196.3L463.8,195.8L464.8,195.2L465.8,194.6L466.8,193.9L467.8,193.3L468.8,192.6L469.8,192.0L470.8,191.5L471.8,191.0L472.8,190.7L473.8,190.4L474.8,190.2L475.8,190.1L476.8,190.2L477.8,190.4L478.8,190.8L479.8,191.2L480.8,191.8L481.8,192.4L482.8,193.2L483.8,193.9L484.8,194.7L485.8,195.4L486.8,196.1L487.8,196.6L488.8,197.1L489.8,197.3L490.8,197.5L491.8,197.6L492.8,197.7L493.8,197.8L494.8,197.8L495.8,197.9L496.8,197.9L497.8,198.0L498.8,197.9L499.8,197.7L500.8,197.4L501.8,196.9L502.8,196.3L503.8,195.4L504.8,194.5L505.8,193.6L506.8,192.8L507.8,192.0L508.8,191.3L509.8,190.8L510.8,190.4L511.8,190.2L512.8,190.1L513.8,190.3L514.8,190.5L515.8,190.8L516.8,191.2L517.8,191.5L518.8,191.8L519.8,192.1L520.8,192.4L521.8,192.7L522.8,193.1L523.8,193.6L524.8,194.2L525.8,194.8L526.8,195.5L527.8,196.1L528.8,196.7L529.8,197.3L530.8,197.8L531.8,198.2L532.8,198.6L533.8,198.9L534.8,199.1L535.8,199.2L536.8,199.2L537.8,199.2L538.8,199.1L539.8,198.9L540.8,198.7L541.8,198.4L542.8,198.1L543.8,197.9L544.8,197.6L545.8,197.3L546.8,196.9L547.8,196.5L548.8,196.1L549.8,195.5L550.8,194.8L551.8,194.0L552.8,193.1L553.8,192.3L554.8,191.4L555.8,190.7L556.8,190.1L557.8,189.7L558.8,189.3L559.8,189.1L560.8,189.0L561.8,189.0L562.8,189.1L563.8,189.2L564.8,189.5L565.8,189.8L566.8,190.2L567.8,190.5L568.8,190.9L569.8,191.3L570.8,191.7L571.8,192.0L572.8,192.4L573.8,192.7L574.8,193.0L575.8,193.2L576.8,193.4L577.8,193.6L578.8,193.7L579.8,193.7L580.8,193.8L581.8,193.8L582.8,193.8L583.8,193.7L584.8,193.7L585.8,193.6L586.8,193.6L587.8,193.5L588.8,193.4L589.8,193.4L590.8,193.3L591.8,193.3L592.8,193.2L593.8,193.2L594.8,193.1L595.8,193.1L596.8,193.1L597.8,193.0L598.8,193.0L599.8,193.0L600.8,193.0L601.8,193.0L602.8,192.9L603.8,192.9L604.8,192.9L605.8,192.9L606.8,192.8L607.8,192.8L608.8,192.7L609.8,192.7L610.8,192.6L611.8,192.5L612.8,192.4L613.8,192.3L614.8,192.1L615.8,192.0L616.8,191.8L617.8,191.6L618.8,191.3L619.8,191.1L620.8,190.8L621.8,190.5L622.8,190.2L623.8,189.8L624.8,189.4L625.8,189.0L626.8,188.6L627.8,188.1L628.8,187.6L629.8,187.1L630.8,186.5L631.8,186.0L632.8,185.3L633.8,184.7L634.8,184.1L635.8,183.4L636.8,182.6L637.8,181.9L638.8,181.0L639.8,180.2L640.8,179.3L641.8,178.3L642.8,177.3L643.8,176.2L644.8,175.1L645.8,173.9L646.8,172.6L647.8,171.4L648.8,170.0L649.8,168.6L650.8,167.2L651.8,165.7L652.8,164.2L653.8,162.7L654.8,161.2L655.8,159.6L656.8,158.0L657.8,156.3L658.8,154.7L659.8,153.0L660.8,151.4L661.8,149.7L662.8,148.0L663.8,146.3L664.8,144.6L665.8,142.9L666.8,141.1L667.8,139.3L668.8,137.4L669.8,135.5L670.8,133.5L671.8,131.4L672.8,129.3L673.8,127.1L674.8,124.9L675.8,122.6L676.8,120.3L677.8,118.1L678.8,115.9L679.8,113.7L680.8,111.5L681.8,109.5L682.8,107.4L683.8,105.4L684.5,104.0" fill="none" stroke="#000000" stroke-width="1.4" stroke-linejoin="round"/>
<path d="M382.8,222.7L383.8,222.4L384.8,222.2L385.8,221.9L386.8,221.7L387.8,221.4L388.8,221.2L389.8,220.9L390.8,220.7L391.8,220.4L392.8,220.2L393.8,220.0L394.8,219.7L395.8,219.5L396.8,219.3L397.8,219.1L398.8,218.9L399.8,218.7L400.8,218.5L401.8,218.3L402.8,218.2L403.8,218.0L404.8,217.9L405.8,217.8L406.8,217.7L407.8,217.6L408.8,217.6L409.8,217.5L410.8,217.5L411.8,217.6L412.8,217.6L413.8,217.6L414.8,217.7L415.8,217.8L416.8,217.9L417.8,218.0L418.8,218.2L419.8,218.3L420.8,218.4L421.8,218.6L422.8,218.8L423.8,218.9L424.8,219.1L425.8,219.2L426.8,219.4L427.8,219.5L428.8,219.6L429.8,219.7L430.8,219.8L431.8,219.9L432.8,220.0L433.8,220.0L434.8,220.0L435.8,220.0L436.8,220.0L437.8,219.9L438.8,219.8L439.8,219.7L440.8,219.6L441.8,219.5L442.8,219.3L443.8,219.2L444.8,219.1L445.8,218.9L446.8,218.8L447.8,218.6L448.8,218.5L449.8,218.4L450.8,218.3L451.8,218.1L452.8,218.0L453.8,217.8L454.8,217.6L455.8,217.4L456.8,217.2L457.8,217.0L458.8,216.8L459.8,216.5L460.8,216.2L461.8,216.0L462.8,215.7L463.8,215.4L464.8,215.1L465.8,214.8L466.8,214.5L467.8,214.3L468.8,214.1L469.8,214.0L470.8,213.9L471.8,213.9L472.8,213.8L473.8,213.8L474.8,213.9L475.8,213.9L476.8,213.9L477.8,214.0L478.8,214.0L479.8,214.1L480.8,214.2L481.8,214.4L482.8,214.6L483.8,214.9L484.8,215.3L485.8,215.7L486.8,216.1L487.8,216.6L488.8,217.1L489.8,217.5L490.8,218.0L491.8,218.4L492.8,218.7L493.8,218.9L494.8,219.1L495.8,219.1L496.8,219.0L497.8,218.7L498.8,218.3L499.8,217.9L500.8,217.4L501.8,217.0L502.8,216.5L503.8,216.0L504.8,215.6L505.8,215.2L506.8,214.8L507.8,214.4L508.8,214.1L509.8,213.7L510.8,213.4L511.8,213.1L512.8,212.9L513.8,212.7L514.8,212.6L515.8,212.6L516.8,212.6L517.8,212.7L518.8,212.9L519.8,213.1L520.8,213.4L521.8,213.8L522.8,214.1L523.8,214.5L524.8,214.9L525.8,215.3L526.8,215.7L527.8,216.1L528.8,216.6L529.8,217.0L530.8,217.5L531.8,218.0L532.8,218.5L533.8,218.9L534.8,219.2L535.8,219.5L536.8,219.7L537.8,219.8L538.8,219.8L539.8,219.8L540.8,219.6L541.8,219.3L542.8,219.0L543.8,218.7L544.8,218.3L545.8,217.9L546.8,217.4L547.8,217.0L548.8,216.5L549.8,216.1L550.8,215.7L551.8,215.3L552.8,214.9L553.8,214.6L554.8,214.3L555.8,214.1L556.8,213.9L557.8,213.7L558.8,213.6L559.8,213.5L560.8,213.4L561.8,213.3L562.8,213.2L563.8,213.1L564.8,213.0L565.8,212.9L566.8,212.9L567.8,212.9L568.8,212.9L569.8,212.9L570.8,213.0L571.8,213.1L572.8,213.2L573.8,213.4L574.8,213.6L575.8,213.8L576.8,214.1L577.8,214.4L578.8,214.6L579.8,214.9L580.8,215.2L581.8,215.5L582.8,215.9L583.8,216.2L584.8,216.5L585.8,216.8L586.8,217.1L587.8,217.3L588.8,217.6L589.8,217.9L590.8,218.1L591.8,218.3L592.8,218.5L593.8,218.7L594.8,218.9L595.8,219.0L596.8,219.2L597.8,219.3L598.8,219.4L599.8,219.6L600.8,219.7L601.8,219.8L602.8,219.9L603.8,220.0L604.8,220.1L605.8,220.2L606.8,220.3L607.8,220.4L608.8,220.5L609.8,220.6L610.8,220.7L611.8,220.8L612.8,220.9L613.8,220.9L614.8,221.0L615.8,221.1L616.8,221.2L617.8,221.3L618.8,221.4L619.8,221.5L620.8,221.6L621.8,221.7L622.8,221.8L623.8,221.9L624.8,222.0L625.8,222.2L626.8,222.3L627.8,222.5L628.8,222.6L629.8,222.8L630.8,223.0L631.8,223.3L632.8,223.5L633.8,223.8L634.8,224.0L635.8,224.3L636.8,224.6L637.8,225.0L638.8,225.3L639.8,225.6L640.8,226.0L641.8,226.3L642.8,226.7L643.8,227.0L644.8,227.4L645.8,227.7L646.8,228.0L647.8,228.4L648.8,228.7L649.8,229.0L650.8,229.3L651.8,229.6L652.8,229.9L653.8,230.2L654.8,230.4L655.8,230.7L656.8,231.0L657.8,231.2L658.8,231.4L659.8,231.6L660.8,231.9L661.8,232.1L662.8,232.3L663.8,232.4L664.8,232.6L665.8,232.8L666.8,233.0L667.8,233.1L668.8,233.3L669.8,233.4L670.8,233.6L671.8,233.7L672.8,233.9L673.8,234.0L674.8,234.1L675.8,234.3L676.8,234.4L677.8,234.5L678.8,234.6L679.8,234.8L680.8,234.9L681.8,235.0L682.8,235.1L683.8,235.2L684.5,235.3" fill="none" stroke="#000000" stroke-width="1.4" stroke-linejoin="round"/>
<path d="M382.8,178.2L383.8,178.9L384.8,179.7L385.8,180.4L386.8,181.2L387.8,181.9L388.8,182.6L389.8,183.4L390.8,184.1L391.8,184.8L392.8,185.6L393.8,186.3L394.8,187.0L395.8,187.7L396.8,188.4L397.8,189.1L398.8,189.8L399.8,190.5L400.8,191.1L401.8,191.8L402.8,192.5L403.8,193.1L404.8,193.7L405.8,194.4L406.8,195.0L407.8,195.6L408.8,196.2L409.8,196.8L410.8,197.4L411.8,198.0L412.8,198.5L413.8,199.1L414.8,199.6L415.8,200.2L416.8,200.7L417.8,201.2L418.8,201.7L419.8,202.2L420.8,202.7L421.8,203.2L422.8,203.6L423.8,204.1L424.8,204.5L425.8,204.9L426.8,205.3L427.8,205.7L428.8,206.1L429.8,206.5L430.8,206.8L431.8,207.1L432.8,207.4L433.8,207.7L434.8,208.0L435.8,208.2L436.8,208.5L437.8,208.7L438.8,208.9L439.8,209.0L440.8,209.2L441.8,209.3L442.8,209.4L443.8,209.5L444.8,209.6L445.8,209.6L446.8,209.6L447.8,209.6L448.8,209.6L449.8,209.5L450.8,209.5L451.8,209.4L452.8,209.2L453.8,209.1L454.8,208.9L455.8,208.7L456.8,208.5L457.8,208.3L458.8,208.0L459.8,207.8L460.8,207.5L461.8,207.2L462.8,206.8L463.8,206.5L464.8,206.2L465.8,205.8L466.8,205.5L467.8,205.2L468.8,204.9L469.8,204.6L470.8,204.3L471.8,204.1L472.8,203.9L473.8,203.7L474.8,203.6L475.8,203.6L476.8,203.6L477.8,203.8L478.8,203.9L479.8,204.2L480.8,204.5L481.8,204.9L482.8,205.3L483.8,205.8L484.8,206.3L485.8,206.8L486.8,207.4L487.8,207.9L488.8,208.4L489.8,208.8L490.8,209.2L491.8,209.5L492.8,209.8L493.8,209.9L494.8,210.0L495.8,210.0L496.8,209.9L497.8,209.7L498.8,209.4L499.8,209.1L500.8,208.7L501.8,208.3L502.8,207.8L503.8,207.3L504.8,206.8L505.8,206.3L506.8,205.8L507.8,205.3L508.8,204.9L509.8,204.5L510.8,204.1L511.8,203.9L512.8,203.6L513.8,203.5L514.8,203.4L515.8,203.4L516.8,203.5L517.8,203.6L518.8,203.8L519.8,204.0L520.8,204.3L521.8,204.6L522.8,205.0L523.8,205.4L524.8,205.8L525.8,206.3L526.8,206.8L527.8,207.3L528.8,207.8L529.8,208.4L530.8,208.9L531.8,209.4L532.8,209.8L533.8,210.2L534.8,210.6L535.8,210.8L536.8,210.9L537.8,211.0L538.8,211.0L539.8,210.8L540.8,210.6L541.8,210.3L542.8,210.0L543.8,209.5L544.8,209.1L545.8,208.6L546.8,208.1L547.8,207.6L548.8,207.1L549.8,206.5L550.8,206.0L551.8,205.5L552.8,205.1L553.8,204.6L554.8,204.2L555.8,203.9L556.8,203.6L557.8,203.3L558.8,203.1L559.8,203.0L560.8,202.8L561.8,202.7L562.8,202.7L563.8,202.7L564.8,202.7L565.8,202.8L566.8,202.9L567.8,203.0L568.8,203.2L569.8,203.4L570.8,203.6L571.8,203.8L572.8,204.0L573.8,204.3L574.8,204.5L575.8,204.8L576.8,205.0L577.8,205.3L578.8,205.5L579.8,205.8L580.8,206.1L581.8,206.3L582.8,206.6L583.8,206.8L584.8,207.0L585.8,207.3L586.8,207.5L587.8,207.7L588.8,207.9L589.8,208.1L590.8,208.2L591.8,208.4L592.8,208.5L593.8,208.6L594.8,208.7L595.8,208.7L596.8,208.8L597.8,208.9L598.8,208.9L599.8,209.0L600.8,209.0L601.8,209.1L602.8,209.1L603.8,209.2L604.8,209.2L605.8,209.2L606.8,209.2L607.8,209.3L608.8,209.3L609.8,209.3L610.8,209.3L611.8,209.3L612.8,209.3L613.8,209.3L614.8,209.3L615.8,209.3L616.8,209.2L617.8,209.2L618.8,209.2L619.8,209.2L620.8,209.1L621.8,209.1L622.8,209.0L623.8,209.0L624.8,209.0L625.8,208.9L626.8,208.9L627.8,208.8L628.8,208.8L629.8,208.7L630.8,208.6L631.8,208.6L632.8,208.5L633.8,208.4L634.8,208.4L635.8,208.3L636.8,208.2L637.8,208.1L638.8,208.0L639.8,207.9L640.8,207.8L641.8,207.7L642.8,207.6L643.8,207.5L644.8,207.3L645.8,207.2L646.8,207.1L647.8,206.9L648.8,206.8L649.8,206.6L650.8,206.5L651.8,206.3L652.8,206.2L653.8,206.0L654.8,205.9L655.8,205.7L656.8,205.5L657.8,205.4L658.8,205.2L659.8,205.1L660.8,204.9L661.8,204.8L662.8,204.6L663.8,204.5L664.8,204.3L665.8,204.2L666.8,204.0L667.8,203.9L668.8,203.7L669.8,203.6L670.8,203.4L671.8,203.3L672.8,203.2L673.8,203.0L674.8,202.9L675.8,202.8L676.8,202.6L677.8,202.5L678.8,202.4L679.8,202.2L680.8,202.1L681.8,202.0L682.8,201.8L683.8,201.7L684.5,201.6" fill="none" stroke="#000000" stroke-width="1.4" stroke-linejoin="round"/>
<rect x="382" y="17" width="303" height="1" fill="#777777"/>
<rect x="382" y="18" width="303" height="1" fill="#b0b0b0"/>
<rect x="382" y="242" width="303" height="1" fill="#444444"/>
<rect x="382" y="17" width="1" height="226" fill="#858585"/>
<rect x="383" y="17" width="1" height="226" fill="#b0b0b0"/>
<rect x="684" y="17" width="1" height="226" fill="#999999"/>
<line x1="379.0" y1="242.40" x2="382.0" y2="242.40" stroke="#222" stroke-width="1.2"/>
<text x="377.5" y="245.8" font-size="9.2" text-anchor="end">0.00</text>
<line x1="379.0" y1="186.20" x2="382.0" y2="186.20" stroke="#222" stroke-width="1.2"/>
<text x="377.5" y="189.6" font-size="9.2" text-anchor="end">0.25</text>
<line x1="379.0" y1="130.00" x2="382.0" y2="130.00" stroke="#222" stroke-width="1.2"/>
<text x="377.5" y="133.4" font-size="9.2" text-anchor="end">0.50</text>
<line x1="379.0" y1="73.80" x2="382.0" y2="73.80" stroke="#222" stroke-width="1.2"/>
<text x="377.5" y="77.2" font-size="9.2" text-anchor="end">0.75</text>
<line x1="379.0" y1="17.60" x2="382.0" y2="17.60" stroke="#222" stroke-width="1.2"/>
<text x="377.5" y="21.0" font-size="9.2" text-anchor="end">1.00</text>
<line x1="423.7" y1="243.0" x2="423.7" y2="245.4" stroke="#222" stroke-width="1.2"/>
<text x="423.7" y="254.1" font-size="9.2" text-anchor="middle">−2</text>
<line x1="470.6" y1="243.0" x2="470.6" y2="245.4" stroke="#222" stroke-width="1.2"/>
<text x="470.6" y="254.1" font-size="9.2" text-anchor="middle">−1</text>
<line x1="517.4" y1="243.0" x2="517.4" y2="245.4" stroke="#222" stroke-width="1.2"/>
<text x="517.4" y="254.1" font-size="9.2" text-anchor="middle">0</text>
<line x1="564.2" y1="243.0" x2="564.2" y2="245.4" stroke="#222" stroke-width="1.2"/>
<text x="564.2" y="254.1" font-size="9.2" text-anchor="middle">1</text>
<line x1="611.1" y1="243.0" x2="611.1" y2="245.4" stroke="#222" stroke-width="1.2"/>
<text x="611.1" y="254.1" font-size="9.2" text-anchor="middle">2</text>
<line x1="657.9" y1="243.0" x2="657.9" y2="245.4" stroke="#222" stroke-width="1.2"/>
<text x="657.9" y="254.1" font-size="9.2" text-anchor="middle">3</text>
<text x="533.6" y="266.2" font-size="10.8" text-anchor="middle">SD of LTL</text>
<text transform="translate(355.8,130.0) rotate(-90)" font-size="10.6" text-anchor="middle">Fecundability</text>
<text x="382.3" y="9.3" font-size="12.8">b) TRF−determined LTL in men</text>
<path d="M35.5,475.4L36.5,475.4L37.5,475.4L38.5,475.5L39.5,475.5L40.5,475.5L41.5,475.5L42.5,475.6L43.5,475.6L44.5,475.6L45.5,475.7L46.5,475.7L47.5,475.7L48.5,475.7L49.5,475.8L50.5,475.8L51.5,475.8L52.5,475.9L53.5,475.9L54.5,475.9L55.5,475.9L56.5,476.0L57.5,476.0L58.5,476.0L59.5,476.0L60.5,476.1L61.5,476.1L62.5,476.1L63.5,476.1L64.5,476.2L65.5,476.2L66.5,476.2L67.5,476.2L68.5,476.3L69.5,476.3L70.5,476.3L71.5,476.3L72.5,476.4L73.5,476.4L74.5,476.4L75.5,476.4L76.5,476.5L77.5,476.5L78.5,476.5L79.5,476.5L80.5,476.6L81.5,476.6L82.5,476.6L83.5,476.6L84.5,476.7L85.5,476.7L86.5,476.7L87.5,476.7L88.5,476.7L89.5,476.8L90.5,476.8L91.5,476.8L92.5,476.8L93.5,476.9L94.5,476.9L95.5,476.9L96.5,476.9L97.5,476.9L98.5,477.0L99.5,477.0L100.5,477.0L101.5,477.0L102.5,477.0L103.5,477.1L104.5,477.1L105.5,477.1L106.5,477.1L107.5,477.1L108.5,477.2L109.5,477.2L110.5,477.2L111.5,477.2L112.5,477.2L113.5,477.3L114.5,477.3L115.5,477.3L116.5,477.3L117.5,477.3L118.5,477.3L119.5,477.4L120.5,477.4L121.5,477.4L122.5,477.4L123.5,477.4L124.5,477.4L125.5,477.5L126.5,477.5L127.5,477.5L128.5,477.5L129.5,477.5L130.5,477.5L131.5,477.6L132.5,477.6L133.5,477.6L134.5,477.6L135.5,477.6L136.5,477.6L137.5,477.6L138.5,477.7L139.5,477.7L140.5,477.7L141.5,477.7L142.5,477.7L143.5,477.7L144.5,477.7L145.5,477.7L146.5,477.8L147.5,477.8L148.5,477.8L149.5,477.8L150.5,477.8L151.5,477.8L152.5,477.8L153.5,477.8L154.5,477.8L155.5,477.9L156.5,477.9L157.5,477.9L158.5,477.9L159.5,477.9L160.5,477.9L161.5,477.9L162.5,477.9L163.5,477.9L164.5,477.9L165.5,477.9L166.5,478.0L167.5,478.0L168.5,478.0L169.5,478.0L170.5,478.0L171.5,478.0L172.5,478.0L173.5,478.0L174.5,478.0L175.5,478.0L176.5,478.0L177.5,478.0L178.5,478.0L179.5,478.0L180.5,478.1L181.5,478.1L182.5,478.1L183.5,478.1L184.5,478.1L185.5,478.1L186.5,478.1L187.5,478.1L188.5,478.1L189.5,478.1L190.5,478.1L191.5,478.1L192.5,478.1L193.5,478.1L194.5,478.1L195.5,478.1L196.5,478.1L197.5,478.1L198.5,478.1L199.5,478.1L200.5,478.1L201.5,478.1L202.5,478.1L203.5,478.1L204.5,478.1L205.5,478.1L206.5,478.1L207.5,478.1L208.5,478.1L209.5,478.1L210.5,478.1L211.5,478.1L212.5,478.1L213.5,478.1L214.5,478.1L215.5,478.1L216.5,478.1L217.5,478.1L218.5,478.1L219.5,478.1L220.5,478.1L221.5,478.1L222.5,478.1L223.5,478.1L224.5,478.1L225.5,478.1L226.5,478.1L227.5,478.1L228.5,478.1L229.5,478.1L230.5,478.0L231.5,478.0L232.5,478.0L233.5,478.0L234.5,478.0L235.5,478.0L236.5,478.0L237.5,478.0L238.5,478.0L239.5,478.0L240.5,478.0L241.5,478.0L242.5,478.0L243.5,478.0L244.5,477.9L245.5,477.9L246.5,477.9L247.5,477.9L248.5,477.9L249.5,477.9L250.5,477.9L251.5,477.9L252.5,477.9L253.5,477.9L254.5,477.8L255.5,477.8L256.5,477.8L257.5,477.8L258.5,477.8L259.5,477.8L260.5,477.8L261.5,477.8L262.5,477.8L263.5,477.7L264.5,477.7L265.5,477.7L266.5,477.7L267.5,477.7L268.5,477.7L269.5,477.7L270.5,477.7L271.5,477.6L272.5,477.6L273.5,477.6L274.5,477.6L275.5,477.6L276.5,477.6L277.5,477.6L278.5,477.5L279.5,477.5L280.5,477.5L281.5,477.5L282.5,477.5L283.5,477.5L284.5,477.5L285.5,477.4L286.5,477.4L287.5,477.4L288.5,477.4L289.5,477.4L290.5,477.4L291.5,477.3L292.5,477.3L293.5,477.3L294.5,477.3L295.5,477.3L296.5,477.3L297.5,477.2L298.5,477.2L299.5,477.2L300.5,477.2L301.5,477.2L302.5,477.2L303.5,477.1L304.5,477.1L305.5,477.1L306.5,477.1L307.5,477.1L308.5,477.0L309.5,477.0L310.5,477.0L311.5,477.0L312.5,477.0L313.5,477.0L314.5,476.9L315.5,476.9L316.5,476.9L317.5,476.9L318.5,476.9L319.5,476.8L320.5,476.8L321.5,476.8L322.5,476.8L323.5,476.8L324.5,476.7L325.5,476.7L326.5,476.7L327.5,476.7L328.5,476.7L329.5,476.6L330.5,476.6L331.5,476.6L332.5,476.6L333.5,476.6L334.5,476.5L335.5,476.5L336.5,476.5L337.0,476.5L337.0,483.1L336.5,483.1L335.5,483.0L334.5,483.0L333.5,483.0L332.5,482.9L331.5,482.9L330.5,482.9L329.5,482.8L328.5,482.8L327.5,482.8L326.5,482.8L325.5,482.7L324.5,482.7L323.5,482.7L322.5,482.6L321.5,482.6L320.5,482.6L319.5,482.5L318.5,482.5L317.5,482.5L316.5,482.5L315.5,482.4L314.5,482.4L313.5,482.4L312.5,482.3L311.5,482.3L310.5,482.3L309.5,482.3L308.5,482.2L307.5,482.2L306.5,482.2L305.5,482.1L304.5,482.1L303.5,482.1L302.5,482.1L301.5,482.0L300.5,482.0L299.5,482.0L298.5,482.0L297.5,481.9L296.5,481.9L295.5,481.9L294.5,481.9L293.5,481.8L292.5,481.8L291.5,481.8L290.5,481.8L289.5,481.7L288.5,481.7L287.5,481.7L286.5,481.7L285.5,481.7L284.5,481.6L283.5,481.6L282.5,481.6L281.5,481.6L280.5,481.5L279.5,481.5L278.5,481.5L277.5,481.5L276.5,481.5L275.5,481.4L274.5,481.4L273.5,481.4L272.5,481.4L271.5,481.4L270.5,481.3L269.5,481.3L268.5,481.3L267.5,481.3L266.5,481.3L265.5,481.2L264.5,481.2L263.5,481.2L262.5,481.2L261.5,481.2L260.5,481.1L259.5,481.1L258.5,481.1L257.5,481.1L256.5,481.1L255.5,481.1L254.5,481.0L253.5,481.0L252.5,481.0L251.5,481.0L250.5,481.0L249.5,481.0L248.5,480.9L247.5,480.9L246.5,480.9L245.5,480.9L244.5,480.9L243.5,480.9L242.5,480.9L241.5,480.8L240.5,480.8L239.5,480.8L238.5,480.8L237.5,480.8L236.5,480.8L235.5,480.8L234.5,480.7L233.5,480.7L232.5,480.7L231.5,480.7L230.5,480.7L229.5,480.7L228.5,480.7L227.5,480.7L226.5,480.6L225.5,480.6L224.5,480.6L223.5,480.6L222.5,480.6L221.5,480.6L220.5,480.6L219.5,480.6L218.5,480.6L217.5,480.6L216.5,480.5L215.5,480.5L214.5,480.5L213.5,480.5L212.5,480.5L211.5,480.5L210.5,480.5L209.5,480.5L208.5,480.5L207.5,480.5L206.5,480.5L205.5,480.5L204.5,480.4L203.5,480.4L202.5,480.4L201.5,480.4L200.5,480.4L199.5,480.4L198.5,480.4L197.5,480.4L196.5,480.4L195.5,480.4L194.5,480.4L193.5,480.4L192.5,480.4L191.5,480.4L190.5,480.4L189.5,480.4L188.5,480.4L187.5,480.4L186.5,480.4L185.5,480.3L184.5,480.3L183.5,480.3L182.5,480.3L181.5,480.3L180.5,480.3L179.5,480.3L178.5,480.3L177.5,480.3L176.5,480.3L175.5,480.3L174.5,480.3L173.5,480.3L172.5,480.3L171.5,480.3L170.5,480.3L169.5,480.3L168.5,480.3L167.5,480.3L166.5,480.3L165.5,480.3L164.5,480.3L163.5,480.3L162.5,480.3L161.5,480.3L160.5,480.3L159.5,480.3L158.5,480.3L157.5,480.3L156.5,480.3L155.5,480.3L154.5,480.3L153.5,480.4L152.5,480.4L151.5,480.4L150.5,480.4L149.5,480.4L148.5,480.4L147.5,480.4L146.5,480.4L145.5,480.4L144.5,480.4L143.5,480.4L142.5,480.4L141.5,480.4L140.5,480.4L139.5,480.4L138.5,480.4L137.5,480.4L136.5,480.4L135.5,480.4L134.5,480.4L133.5,480.5L132.5,480.5L131.5,480.5L130.5,480.5L129.5,480.5L128.5,480.5L127.5,480.5L126.5,480.5L125.5,480.5L124.5,480.5L123.5,480.5L122.5,480.5L121.5,480.6L120.5,480.6L119.5,480.6L118.5,480.6L117.5,480.6L116.5,480.6L115.5,480.6L114.5,480.6L113.5,480.6L112.5,480.7L111.5,480.7L110.5,480.7L109.5,480.7L108.5,480.7L107.5,480.7L106.5,480.7L105.5,480.7L104.5,480.8L103.5,480.8L102.5,480.8L101.5,480.8L100.5,480.8L99.5,480.8L98.5,480.8L97.5,480.8L96.5,480.9L95.5,480.9L94.5,480.9L93.5,480.9L92.5,480.9L91.5,480.9L90.5,481.0L89.5,481.0L88.5,481.0L87.5,481.0L86.5,481.0L85.5,481.0L84.5,481.1L83.5,481.1L82.5,481.1L81.5,481.1L80.5,481.1L79.5,481.1L78.5,481.2L77.5,481.2L76.5,481.2L75.5,481.2L74.5,481.2L73.5,481.3L72.5,481.3L71.5,481.3L70.5,481.3L69.5,481.3L68.5,481.4L67.5,481.4L66.5,481.4L65.5,481.4L64.5,481.4L63.5,481.5L62.5,481.5L61.5,481.5L60.5,481.5L59.5,481.6L58.5,481.6L57.5,481.6L56.5,481.6L55.5,481.6L54.5,481.7L53.5,481.7L52.5,481.7L51.5,481.7L50.5,481.8L49.5,481.8L48.5,481.8L47.5,481.8L46.5,481.9L45.5,481.9L44.5,481.9L43.5,481.9L42.5,482.0L41.5,482.0L40.5,482.0L39.5,482.0L38.5,482.1L37.5,482.1L36.5,482.1L35.5,482.2Z" fill="#ABA7D5" stroke="none"/>
<path d="M35.5,475.4L36.5,475.4L37.5,475.4L38.5,475.5L39.5,475.5L40.5,475.5L41.5,475.5L42.5,475.6L43.5,475.6L44.5,475.6L45.5,475.7L46.5,475.7L47.5,475.7L48.5,475.7L49.5,475.8L50.5,475.8L51.5,475.8L52.5,475.9L53.5,475.9L54.5,475.9L55.5,475.9L56.5,476.0L57.5,476.0L58.5,476.0L59.5,476.0L60.5,476.1L61.5,476.1L62.5,476.1L63.5,476.1L64.5,476.2L65.5,476.2L66.5,476.2L67.5,476.2L68.5,476.3L69.5,476.3L70.5,476.3L71.5,476.3L72.5,476.4L73.5,476.4L74.5,476.4L75.5,476.4L76.5,476.5L77.5,476.5L78.5,476.5L79.5,476.5L80.5,476.6L81.5,476.6L82.5,476.6L83.5,476.6L84.5,476.7L85.5,476.7L86.5,476.7L87.5,476.7L88.5,476.7L89.5,476.8L90.5,476.8L91.5,476.8L92.5,476.8L93.5,476.9L94.5,476.9L95.5,476.9L96.5,476.9L97.5,476.9L98.5,477.0L99.5,477.0L100.5,477.0L101.5,477.0L102.5,477.0L103.5,477.1L104.5,477.1L105.5,477.1L106.5,477.1L107.5,477.1L108.5,477.2L109.5,477.2L110.5,477.2L111.5,477.2L112.5,477.2L113.5,477.3L114.5,477.3L115.5,477.3L116.5,477.3L117.5,477.3L118.5,477.3L119.5,477.4L120.5,477.4L121.5,477.4L122.5,477.4L123.5,477.4L124.5,477.4L125.5,477.5L126.5,477.5L127.5,477.5L128.5,477.5L129.5,477.5L130.5,477.5L131.5,477.6L132.5,477.6L133.5,477.6L134.5,477.6L135.5,477.6L136.5,477.6L137.5,477.6L138.5,477.7L139.5,477.7L140.5,477.7L141.5,477.7L142.5,477.7L143.5,477.7L144.5,477.7L145.5,477.7L146.5,477.8L147.5,477.8L148.5,477.8L149.5,477.8L150.5,477.8L151.5,477.8L152.5,477.8L153.5,477.8L154.5,477.8L155.5,477.9L156.5,477.9L157.5,477.9L158.5,477.9L159.5,477.9L160.5,477.9L161.5,477.9L162.5,477.9L163.5,477.9L164.5,477.9L165.5,477.9L166.5,478.0L167.5,478.0L168.5,478.0L169.5,478.0L170.5,478.0L171.5,478.0L172.5,478.0L173.5,478.0L174.5,478.0L175.5,478.0L176.5,478.0L177.5,478.0L178.5,478.0L179.5,478.0L180.5,478.1L181.5,478.1L182.5,478.1L183.5,478.1L184.5,478.1L185.5,478.1L186.5,478.1L187.5,478.1L188.5,478.1L189.5,478.1L190.5,478.1L191.5,478.1L192.5,478.1L193.5,478.1L194.5,478.1L195.5,478.1L196.5,478.1L197.5,478.1L198.5,478.1L199.5,478.1L200.5,478.1L201.5,478.1L202.5,478.1L203.5,478.1L204.5,478.1L205.5,478.1L206.5,478.1L207.5,478.1L208.5,478.1L209.5,478.1L210.5,478.1L211.5,478.1L212.5,478.1L213.5,478.1L214.5,478.1L215.5,478.1L216.5,478.1L217.5,478.1L218.5,478.1L219.5,478.1L220.5,478.1L221.5,478.1L222.5,478.1L223.5,478.1L224.5,478.1L225.5,478.1L226.5,478.1L227.5,478.1L228.5,478.1L229.5,478.1L230.5,478.0L231.5,478.0L232.5,478.0L233.5,478.0L234.5,478.0L235.5,478.0L236.5,478.0L237.5,478.0L238.5,478.0L239.5,478.0L240.5,478.0L241.5,478.0L242.5,478.0L243.5,478.0L244.5,477.9L245.5,477.9L246.5,477.9L247.5,477.9L248.5,477.9L249.5,477.9L250.5,477.9L251.5,477.9L252.5,477.9L253.5,477.9L254.5,477.8L255.5,477.8L256.5,477.8L257.5,477.8L258.5,477.8L259.5,477.8L260.5,477.8L261.5,477.8L262.5,477.8L263.5,477.7L264.5,477.7L265.5,477.7L266.5,477.7L267.5,477.7L268.5,477.7L269.5,477.7L270.5,477.7L271.5,477.6L272.5,477.6L273.5,477.6L274.5,477.6L275.5,477.6L276.5,477.6L277.5,477.6L278.5,477.5L279.5,477.5L280.5,477.5L281.5,477.5L282.5,477.5L283.5,477.5L284.5,477.5L285.5,477.4L286.5,477.4L287.5,477.4L288.5,477.4L289.5,477.4L290.5,477.4L291.5,477.3L292.5,477.3L293.5,477.3L294.5,477.3L295.5,477.3L296.5,477.3L297.5,477.2L298.5,477.2L299.5,477.2L300.5,477.2L301.5,477.2L302.5,477.2L303.5,477.1L304.5,477.1L305.5,477.1L306.5,477.1L307.5,477.1L308.5,477.0L309.5,477.0L310.5,477.0L311.5,477.0L312.5,477.0L313.5,477.0L314.5,476.9L315.5,476.9L316.5,476.9L317.5,476.9L318.5,476.9L319.5,476.8L320.5,476.8L321.5,476.8L322.5,476.8L323.5,476.8L324.5,476.7L325.5,476.7L326.5,476.7L327.5,476.7L328.5,476.7L329.5,476.6L330.5,476.6L331.5,476.6L332.5,476.6L333.5,476.6L334.5,476.5L335.5,476.5L336.5,476.5L337.0,476.5" fill="none" stroke="#000000" stroke-width="1.4" stroke-linejoin="round"/>
<path d="M35.5,482.2L36.5,482.1L37.5,482.1L38.5,482.1L39.5,482.0L40.5,482.0L41.5,482.0L42.5,482.0L43.5,481.9L44.5,481.9L45.5,481.9L46.5,481.9L47.5,481.8L48.5,481.8L49.5,481.8L50.5,481.8L51.5,481.7L52.5,481.7L53.5,481.7L54.5,481.7L55.5,481.6L56.5,481.6L57.5,481.6L58.5,481.6L59.5,481.6L60.5,481.5L61.5,481.5L62.5,481.5L63.5,481.5L64.5,481.4L65.5,481.4L66.5,481.4L67.5,481.4L68.5,481.4L69.5,481.3L70.5,481.3L71.5,481.3L72.5,481.3L73.5,481.3L74.5,481.2L75.5,481.2L76.5,481.2L77.5,481.2L78.5,481.2L79.5,481.1L80.5,481.1L81.5,481.1L82.5,481.1L83.5,481.1L84.5,481.1L85.5,481.0L86.5,481.0L87.5,481.0L88.5,481.0L89.5,481.0L90.5,481.0L91.5,480.9L92.5,480.9L93.5,480.9L94.5,480.9L95.5,480.9L96.5,480.9L97.5,480.8L98.5,480.8L99.5,480.8L100.5,480.8L101.5,480.8L102.5,480.8L103.5,480.8L104.5,480.8L105.5,480.7L106.5,480.7L107.5,480.7L108.5,480.7L109.5,480.7L110.5,480.7L111.5,480.7L112.5,480.7L113.5,480.6L114.5,480.6L115.5,480.6L116.5,480.6L117.5,480.6L118.5,480.6L119.5,480.6L120.5,480.6L121.5,480.6L122.5,480.5L123.5,480.5L124.5,480.5L125.5,480.5L126.5,480.5L127.5,480.5L128.5,480.5L129.5,480.5L130.5,480.5L131.5,480.5L132.5,480.5L133.5,480.5L134.5,480.4L135.5,480.4L136.5,480.4L137.5,480.4L138.5,480.4L139.5,480.4L140.5,480.4L141.5,480.4L142.5,480.4L143.5,480.4L144.5,480.4L145.5,480.4L146.5,480.4L147.5,480.4L148.5,480.4L149.5,480.4L150.5,480.4L151.5,480.4L152.5,480.4L153.5,480.4L154.5,480.3L155.5,480.3L156.5,480.3L157.5,480.3L158.5,480.3L159.5,480.3L160.5,480.3L161.5,480.3L162.5,480.3L163.5,480.3L164.5,480.3L165.5,480.3L166.5,480.3L167.5,480.3L168.5,480.3L169.5,480.3L170.5,480.3L171.5,480.3L172.5,480.3L173.5,480.3L174.5,480.3L175.5,480.3L176.5,480.3L177.5,480.3L178.5,480.3L179.5,480.3L180.5,480.3L181.5,480.3L182.5,480.3L183.5,480.3L184.5,480.3L185.5,480.3L186.5,480.4L187.5,480.4L188.5,480.4L189.5,480.4L190.5,480.4L191.5,480.4L192.5,480.4L193.5,480.4L194.5,480.4L195.5,480.4L196.5,480.4L197.5,480.4L198.5,480.4L199.5,480.4L200.5,480.4L201.5,480.4L202.5,480.4L203.5,480.4L204.5,480.4L205.5,480.5L206.5,480.5L207.5,480.5L208.5,480.5L209.5,480.5L210.5,480.5L211.5,480.5L212.5,480.5L213.5,480.5L214.5,480.5L215.5,480.5L216.5,480.5L217.5,480.6L218.5,480.6L219.5,480.6L220.5,480.6L221.5,480.6L222.5,480.6L223.5,480.6L224.5,480.6L225.5,480.6L226.5,480.6L227.5,480.7L228.5,480.7L229.5,480.7L230.5,480.7L231.5,480.7L232.5,480.7L233.5,480.7L234.5,480.7L235.5,480.8L236.5,480.8L237.5,480.8L238.5,480.8L239.5,480.8L240.5,480.8L241.5,480.8L242.5,480.9L243.5,480.9L244.5,480.9L245.5,480.9L246.5,480.9L247.5,480.9L248.5,480.9L249.5,481.0L250.5,481.0L251.5,481.0L252.5,481.0L253.5,481.0L254.5,481.0L255.5,481.1L256.5,481.1L257.5,481.1L258.5,481.1L259.5,481.1L260.5,481.1L261.5,481.2L262.5,481.2L263.5,481.2L264.5,481.2L265.5,481.2L266.5,481.3L267.5,481.3L268.5,481.3L269.5,481.3L270.5,481.3L271.5,481.4L272.5,481.4L273.5,481.4L274.5,481.4L275.5,481.4L276.5,481.5L277.5,481.5L278.5,481.5L279.5,481.5L280.5,481.5L281.5,481.6L282.5,481.6L283.5,481.6L284.5,481.6L285.5,481.7L286.5,481.7L287.5,481.7L288.5,481.7L289.5,481.7L290.5,481.8L291.5,481.8L292.5,481.8L293.5,481.8L294.5,481.9L295.5,481.9L296.5,481.9L297.5,481.9L298.5,482.0L299.5,482.0L300.5,482.0L301.5,482.0L302.5,482.1L303.5,482.1L304.5,482.1L305.5,482.1L306.5,482.2L307.5,482.2L308.5,482.2L309.5,482.3L310.5,482.3L311.5,482.3L312.5,482.3L313.5,482.4L314.5,482.4L315.5,482.4L316.5,482.5L317.5,482.5L318.5,482.5L319.5,482.5L320.5,482.6L321.5,482.6L322.5,482.6L323.5,482.7L324.5,482.7L325.5,482.7L326.5,482.8L327.5,482.8L328.5,482.8L329.5,482.8L330.5,482.9L331.5,482.9L332.5,482.9L333.5,483.0L334.5,483.0L335.5,483.0L336.5,483.1L337.0,483.1" fill="none" stroke="#000000" stroke-width="1.4" stroke-linejoin="round"/>
<path d="M35.5,478.7L36.5,478.7L37.5,478.7L38.5,478.7L39.5,478.7L40.5,478.7L41.5,478.7L42.5,478.7L43.5,478.7L44.5,478.7L45.5,478.7L46.5,478.7L47.5,478.7L48.5,478.7L49.5,478.7L50.5,478.7L51.5,478.8L52.5,478.8L53.5,478.8L54.5,478.8L55.5,478.8L56.5,478.8L57.5,478.8L58.5,478.8L59.5,478.8L60.5,478.8L61.5,478.8L62.5,478.8L63.5,478.8L64.5,478.8L65.5,478.8L66.5,478.8L67.5,478.8L68.5,478.8L69.5,478.8L70.5,478.8L71.5,478.8L72.5,478.8L73.5,478.8L74.5,478.8L75.5,478.8L76.5,478.8L77.5,478.8L78.5,478.8L79.5,478.8L80.5,478.8L81.5,478.9L82.5,478.9L83.5,478.9L84.5,478.9L85.5,478.9L86.5,478.9L87.5,478.9L88.5,478.9L89.5,478.9L90.5,478.9L91.5,478.9L92.5,478.9L93.5,478.9L94.5,478.9L95.5,478.9L96.5,478.9L97.5,478.9L98.5,478.9L99.5,478.9L100.5,478.9L101.5,478.9L102.5,478.9L103.5,478.9L104.5,478.9L105.5,478.9L106.5,478.9L107.5,478.9L108.5,478.9L109.5,478.9L110.5,478.9L111.5,479.0L112.5,479.0L113.5,479.0L114.5,479.0L115.5,479.0L116.5,479.0L117.5,479.0L118.5,479.0L119.5,479.0L120.5,479.0L121.5,479.0L122.5,479.0L123.5,479.0L124.5,479.0L125.5,479.0L126.5,479.0L127.5,479.0L128.5,479.0L129.5,479.0L130.5,479.0L131.5,479.0L132.5,479.0L133.5,479.0L134.5,479.0L135.5,479.0L136.5,479.0L137.5,479.0L138.5,479.0L139.5,479.0L140.5,479.0L141.5,479.1L142.5,479.1L143.5,479.1L144.5,479.1L145.5,479.1L146.5,479.1L147.5,479.1L148.5,479.1L149.5,479.1L150.5,479.1L151.5,479.1L152.5,479.1L153.5,479.1L154.5,479.1L155.5,479.1L156.5,479.1L157.5,479.1L158.5,479.1L159.5,479.1L160.5,479.1L161.5,479.1L162.5,479.1L163.5,479.1L164.5,479.1L165.5,479.1L166.5,479.1L167.5,479.1L168.5,479.1L169.5,479.1L170.5,479.1L171.5,479.2L172.5,479.2L173.5,479.2L174.5,479.2L175.5,479.2L176.5,479.2L177.5,479.2L178.5,479.2L179.5,479.2L180.5,479.2L181.5,479.2L182.5,479.2L183.5,479.2L184.5,479.2L185.5,479.2L186.5,479.2L187.5,479.2L188.5,479.2L189.5,479.2L190.5,479.2L191.5,479.2L192.5,479.2L193.5,479.2L194.5,479.2L195.5,479.2L196.5,479.2L197.5,479.2L198.5,479.2L199.5,479.2L200.5,479.2L201.5,479.3L202.5,479.3L203.5,479.3L204.5,479.3L205.5,479.3L206.5,479.3L207.5,479.3L208.5,479.3L209.5,479.3L210.5,479.3L211.5,479.3L212.5,479.3L213.5,479.3L214.5,479.3L215.5,479.3L216.5,479.3L217.5,479.3L218.5,479.3L219.5,479.3L220.5,479.3L221.5,479.3L222.5,479.3L223.5,479.3L224.5,479.3L225.5,479.3L226.5,479.3L227.5,479.3L228.5,479.3L229.5,479.3L230.5,479.3L231.5,479.4L232.5,479.4L233.5,479.4L234.5,479.4L235.5,479.4L236.5,479.4L237.5,479.4L238.5,479.4L239.5,479.4L240.5,479.4L241.5,479.4L242.5,479.4L243.5,479.4L244.5,479.4L245.5,479.4L246.5,479.4L247.5,479.4L248.5,479.4L249.5,479.4L250.5,479.4L251.5,479.4L252.5,479.4L253.5,479.4L254.5,479.4L255.5,479.4L256.5,479.4L257.5,479.4L258.5,479.4L259.5,479.4L260.5,479.4L261.5,479.5L262.5,479.5L263.5,479.5L264.5,479.5L265.5,479.5L266.5,479.5L267.5,479.5L268.5,479.5L269.5,479.5L270.5,479.5L271.5,479.5L272.5,479.5L273.5,479.5L274.5,479.5L275.5,479.5L276.5,479.5L277.5,479.5L278.5,479.5L279.5,479.5L280.5,479.5L281.5,479.5L282.5,479.5L283.5,479.5L284.5,479.5L285.5,479.5L286.5,479.5L287.5,479.5L288.5,479.5L289.5,479.5L290.5,479.5L291.5,479.5L292.5,479.6L293.5,479.6L294.5,479.6L295.5,479.6L296.5,479.6L297.5,479.6L298.5,479.6L299.5,479.6L300.5,479.6L301.5,479.6L302.5,479.6L303.5,479.6L304.5,479.6L305.5,479.6L306.5,479.6L307.5,479.6L308.5,479.6L309.5,479.6L310.5,479.6L311.5,479.6L312.5,479.6L313.5,479.6L314.5,479.6L315.5,479.6L316.5,479.6L317.5,479.6L318.5,479.6L319.5,479.6L320.5,479.6L321.5,479.6L322.5,479.7L323.5,479.7L324.5,479.7L325.5,479.7L326.5,479.7L327.5,479.7L328.5,479.7L329.5,479.7L330.5,479.7L331.5,479.7L332.5,479.7L333.5,479.7L334.5,479.7L335.5,479.7L336.5,479.7L337.0,479.7" fill="none" stroke="#000000" stroke-width="1.4" stroke-linejoin="round"/>
<rect x="35" y="296" width="303" height="1" fill="#474747"/>
<rect x="35" y="520" width="303" height="1" fill="#bbbbbb"/>
<rect x="35" y="521" width="303" height="1" fill="#6e6e6e"/>
<rect x="35" y="296" width="1" height="226" fill="#808080"/>
<rect x="336" y="296" width="1" height="226" fill="#aaaaaa"/>
<rect x="337" y="296" width="1" height="226" fill="#aaaaaa"/>
<line x1="32.0" y1="521.30" x2="35.0" y2="521.30" stroke="#222" stroke-width="1.2"/>
<text x="30.2" y="524.7" font-size="9.2" text-anchor="end">0.00</text>
<line x1="32.0" y1="465.10" x2="35.0" y2="465.10" stroke="#222" stroke-width="1.2"/>
<text x="30.2" y="468.5" font-size="9.2" text-anchor="end">0.25</text>
<line x1="32.0" y1="408.90" x2="35.0" y2="408.90" stroke="#222" stroke-width="1.2"/>
<text x="30.2" y="412.3" font-size="9.2" text-anchor="end">0.50</text>
<line x1="32.0" y1="352.70" x2="35.0" y2="352.70" stroke="#222" stroke-width="1.2"/>
<text x="30.2" y="356.1" font-size="9.2" text-anchor="end">0.75</text>
<line x1="32.0" y1="296.50" x2="35.0" y2="296.50" stroke="#222" stroke-width="1.2"/>
<text x="30.2" y="299.9" font-size="9.2" text-anchor="end">1.00</text>
<line x1="35.8" y1="522.0" x2="35.8" y2="524.4" stroke="#222" stroke-width="1.2"/>
<text x="35.8" y="533.0" font-size="9.2" text-anchor="middle">−4</text>
<line x1="111.0" y1="522.0" x2="111.0" y2="524.4" stroke="#222" stroke-width="1.2"/>
<text x="111.0" y="533.0" font-size="9.2" text-anchor="middle">−2</text>
<line x1="186.1" y1="522.0" x2="186.1" y2="524.4" stroke="#222" stroke-width="1.2"/>
<text x="186.1" y="533.0" font-size="9.2" text-anchor="middle">0</text>
<line x1="261.3" y1="522.0" x2="261.3" y2="524.4" stroke="#222" stroke-width="1.2"/>
<text x="261.3" y="533.0" font-size="9.2" text-anchor="middle">2</text>
<line x1="336.5" y1="522.0" x2="336.5" y2="524.4" stroke="#222" stroke-width="1.2"/>
<text x="336.5" y="533.0" font-size="9.2" text-anchor="middle">4</text>
<text x="186.2" y="545.1" font-size="10.8" text-anchor="middle">SD of LTL</text>
<text transform="translate(7.8,408.9) rotate(-90)" font-size="10.6" text-anchor="middle">Fecundability</text>
<text x="35.0" y="288.2" font-size="12.8">c) GRS for LTL in women</text>
<path d="M382.8,474.4L383.8,474.5L384.8,474.5L385.8,474.6L386.8,474.6L387.8,474.6L388.8,474.7L389.8,474.7L390.8,474.8L391.8,474.8L392.8,474.8L393.8,474.9L394.8,474.9L395.8,475.0L396.8,475.0L397.8,475.0L398.8,475.1L399.8,475.1L400.8,475.2L401.8,475.2L402.8,475.2L403.8,475.3L404.8,475.3L405.8,475.4L406.8,475.4L407.8,475.4L408.8,475.5L409.8,475.5L410.8,475.6L411.8,475.6L412.8,475.6L413.8,475.7L414.8,475.7L415.8,475.7L416.8,475.8L417.8,475.8L418.8,475.8L419.8,475.9L420.8,475.9L421.8,476.0L422.8,476.0L423.8,476.0L424.8,476.1L425.8,476.1L426.8,476.1L427.8,476.2L428.8,476.2L429.8,476.2L430.8,476.3L431.8,476.3L432.8,476.3L433.8,476.4L434.8,476.4L435.8,476.4L436.8,476.5L437.8,476.5L438.8,476.5L439.8,476.6L440.8,476.6L441.8,476.6L442.8,476.7L443.8,476.7L444.8,476.7L445.8,476.7L446.8,476.8L447.8,476.8L448.8,476.8L449.8,476.9L450.8,476.9L451.8,476.9L452.8,477.0L453.8,477.0L454.8,477.0L455.8,477.0L456.8,477.1L457.8,477.1L458.8,477.1L459.8,477.2L460.8,477.2L461.8,477.2L462.8,477.2L463.8,477.3L464.8,477.3L465.8,477.3L466.8,477.3L467.8,477.4L468.8,477.4L469.8,477.4L470.8,477.4L471.8,477.5L472.8,477.5L473.8,477.5L474.8,477.5L475.8,477.6L476.8,477.6L477.8,477.6L478.8,477.6L479.8,477.7L480.8,477.7L481.8,477.7L482.8,477.7L483.8,477.8L484.8,477.8L485.8,477.8L486.8,477.8L487.8,477.8L488.8,477.9L489.8,477.9L490.8,477.9L491.8,477.9L492.8,477.9L493.8,478.0L494.8,478.0L495.8,478.0L496.8,478.0L497.8,478.0L498.8,478.1L499.8,478.1L500.8,478.1L501.8,478.1L502.8,478.1L503.8,478.1L504.8,478.2L505.8,478.2L506.8,478.2L507.8,478.2L508.8,478.2L509.8,478.2L510.8,478.3L511.8,478.3L512.8,478.3L513.8,478.3L514.8,478.3L515.8,478.3L516.8,478.3L517.8,478.3L518.8,478.4L519.8,478.4L520.8,478.4L521.8,478.4L522.8,478.4L523.8,478.4L524.8,478.4L525.8,478.4L526.8,478.5L527.8,478.5L528.8,478.5L529.8,478.5L530.8,478.5L531.8,478.5L532.8,478.5L533.8,478.5L534.8,478.5L535.8,478.5L536.8,478.6L537.8,478.6L538.8,478.6L539.8,478.6L540.8,478.6L541.8,478.6L542.8,478.6L543.8,478.6L544.8,478.6L545.8,478.6L546.8,478.6L547.8,478.6L548.8,478.6L549.8,478.6L550.8,478.6L551.8,478.6L552.8,478.6L553.8,478.6L554.8,478.6L555.8,478.6L556.8,478.7L557.8,478.7L558.8,478.7L559.8,478.7L560.8,478.7L561.8,478.7L562.8,478.7L563.8,478.7L564.8,478.7L565.8,478.7L566.8,478.7L567.8,478.7L568.8,478.7L569.8,478.7L570.8,478.7L571.8,478.6L572.8,478.6L573.8,478.6L574.8,478.6L575.8,478.6L576.8,478.6L577.8,478.6L578.8,478.6L579.8,478.6L580.8,478.6L581.8,478.6L582.8,478.6L583.8,478.6L584.8,478.6L585.8,478.6L586.8,478.6L587.8,478.6L588.8,478.6L589.8,478.6L590.8,478.6L591.8,478.5L592.8,478.5L593.8,478.5L594.8,478.5L595.8,478.5L596.8,478.5L597.8,478.5L598.8,478.5L599.8,478.5L600.8,478.5L601.8,478.5L602.8,478.4L603.8,478.4L604.8,478.4L605.8,478.4L606.8,478.4L607.8,478.4L608.8,478.4L609.8,478.4L610.8,478.3L611.8,478.3L612.8,478.3L613.8,478.3L614.8,478.3L615.8,478.3L616.8,478.3L617.8,478.3L618.8,478.2L619.8,478.2L620.8,478.2L621.8,478.2L622.8,478.2L623.8,478.2L624.8,478.1L625.8,478.1L626.8,478.1L627.8,478.1L628.8,478.1L629.8,478.1L630.8,478.0L631.8,478.0L632.8,478.0L633.8,478.0L634.8,478.0L635.8,477.9L636.8,477.9L637.8,477.9L638.8,477.9L639.8,477.9L640.8,477.8L641.8,477.8L642.8,477.8L643.8,477.8L644.8,477.8L645.8,477.7L646.8,477.7L647.8,477.7L648.8,477.7L649.8,477.7L650.8,477.6L651.8,477.6L652.8,477.6L653.8,477.6L654.8,477.5L655.8,477.5L656.8,477.5L657.8,477.5L658.8,477.4L659.8,477.4L660.8,477.4L661.8,477.4L662.8,477.3L663.8,477.3L664.8,477.3L665.8,477.3L666.8,477.2L667.8,477.2L668.8,477.2L669.8,477.2L670.8,477.1L671.8,477.1L672.8,477.1L673.8,477.1L674.8,477.0L675.8,477.0L676.8,477.0L677.8,477.0L678.8,476.9L679.8,476.9L680.8,476.9L681.8,476.8L682.8,476.8L683.8,476.8L684.5,476.8L684.5,483.6L683.8,483.6L682.8,483.6L681.8,483.6L680.8,483.5L679.8,483.5L678.8,483.4L677.8,483.4L676.8,483.4L675.8,483.3L674.8,483.3L673.8,483.3L672.8,483.2L671.8,483.2L670.8,483.2L669.8,483.1L668.8,483.1L667.8,483.1L666.8,483.0L665.8,483.0L664.8,483.0L663.8,482.9L662.8,482.9L661.8,482.9L660.8,482.8L659.8,482.8L658.8,482.8L657.8,482.8L656.8,482.7L655.8,482.7L654.8,482.7L653.8,482.6L652.8,482.6L651.8,482.6L650.8,482.5L649.8,482.5L648.8,482.5L647.8,482.5L646.8,482.4L645.8,482.4L644.8,482.4L643.8,482.3L642.8,482.3L641.8,482.3L640.8,482.3L639.8,482.2L638.8,482.2L637.8,482.2L636.8,482.2L635.8,482.1L634.8,482.1L633.8,482.1L632.8,482.1L631.8,482.0L630.8,482.0L629.8,482.0L628.8,482.0L627.8,481.9L626.8,481.9L625.8,481.9L624.8,481.9L623.8,481.8L622.8,481.8L621.8,481.8L620.8,481.8L619.8,481.7L618.8,481.7L617.8,481.7L616.8,481.7L615.8,481.7L614.8,481.6L613.8,481.6L612.8,481.6L611.8,481.6L610.8,481.6L609.8,481.5L608.8,481.5L607.8,481.5L606.8,481.5L605.8,481.5L604.8,481.4L603.8,481.4L602.8,481.4L601.8,481.4L600.8,481.4L599.8,481.4L598.8,481.3L597.8,481.3L596.8,481.3L595.8,481.3L594.8,481.3L593.8,481.3L592.8,481.3L591.8,481.2L590.8,481.2L589.8,481.2L588.8,481.2L587.8,481.2L586.8,481.2L585.8,481.2L584.8,481.2L583.8,481.1L582.8,481.1L581.8,481.1L580.8,481.1L579.8,481.1L578.8,481.1L577.8,481.1L576.8,481.1L575.8,481.1L574.8,481.0L573.8,481.0L572.8,481.0L571.8,481.0L570.8,481.0L569.8,481.0L568.8,481.0L567.8,481.0L566.8,481.0L565.8,481.0L564.8,481.0L563.8,481.0L562.8,481.0L561.8,481.0L560.8,481.0L559.8,481.0L558.8,480.9L557.8,480.9L556.8,480.9L555.8,480.9L554.8,480.9L553.8,480.9L552.8,480.9L551.8,480.9L550.8,480.9L549.8,480.9L548.8,480.9L547.8,480.9L546.8,480.9L545.8,480.9L544.8,480.9L543.8,480.9L542.8,480.9L541.8,480.9L540.8,480.9L539.8,480.9L538.8,480.9L537.8,481.0L536.8,481.0L535.8,481.0L534.8,481.0L533.8,481.0L532.8,481.0L531.8,481.0L530.8,481.0L529.8,481.0L528.8,481.0L527.8,481.0L526.8,481.0L525.8,481.0L524.8,481.0L523.8,481.0L522.8,481.0L521.8,481.0L520.8,481.1L519.8,481.1L518.8,481.1L517.8,481.1L516.8,481.1L515.8,481.1L514.8,481.1L513.8,481.1L512.8,481.1L511.8,481.1L510.8,481.2L509.8,481.2L508.8,481.2L507.8,481.2L506.8,481.2L505.8,481.2L504.8,481.2L503.8,481.2L502.8,481.3L501.8,481.3L500.8,481.3L499.8,481.3L498.8,481.3L497.8,481.3L496.8,481.3L495.8,481.4L494.8,481.4L493.8,481.4L492.8,481.4L491.8,481.4L490.8,481.4L489.8,481.5L488.8,481.5L487.8,481.5L486.8,481.5L485.8,481.5L484.8,481.5L483.8,481.6L482.8,481.6L481.8,481.6L480.8,481.6L479.8,481.6L478.8,481.7L477.8,481.7L476.8,481.7L475.8,481.7L474.8,481.7L473.8,481.8L472.8,481.8L471.8,481.8L470.8,481.8L469.8,481.9L468.8,481.9L467.8,481.9L466.8,481.9L465.8,481.9L464.8,482.0L463.8,482.0L462.8,482.0L461.8,482.0L460.8,482.1L459.8,482.1L458.8,482.1L457.8,482.1L456.8,482.2L455.8,482.2L454.8,482.2L453.8,482.2L452.8,482.3L451.8,482.3L450.8,482.3L449.8,482.4L448.8,482.4L447.8,482.4L446.8,482.4L445.8,482.5L444.8,482.5L443.8,482.5L442.8,482.5L441.8,482.6L440.8,482.6L439.8,482.6L438.8,482.7L437.8,482.7L436.8,482.7L435.8,482.8L434.8,482.8L433.8,482.8L432.8,482.8L431.8,482.9L430.8,482.9L429.8,482.9L428.8,483.0L427.8,483.0L426.8,483.0L425.8,483.1L424.8,483.1L423.8,483.1L422.8,483.2L421.8,483.2L420.8,483.2L419.8,483.3L418.8,483.3L417.8,483.3L416.8,483.4L415.8,483.4L414.8,483.4L413.8,483.5L412.8,483.5L411.8,483.5L410.8,483.6L409.8,483.6L408.8,483.6L407.8,483.7L406.8,483.7L405.8,483.7L404.8,483.8L403.8,483.8L402.8,483.8L401.8,483.9L400.8,483.9L399.8,484.0L398.8,484.0L397.8,484.0L396.8,484.1L395.8,484.1L394.8,484.1L393.8,484.2L392.8,484.2L391.8,484.3L390.8,484.3L389.8,484.3L388.8,484.4L387.8,484.4L386.8,484.4L385.8,484.5L384.8,484.5L383.8,484.6L382.8,484.6Z" fill="#BDBADE" stroke="none"/>
<path d="M382.8,474.4L383.8,474.5L384.8,474.5L385.8,474.6L386.8,474.6L387.8,474.6L388.8,474.7L389.8,474.7L390.8,474.8L391.8,474.8L392.8,474.8L393.8,474.9L394.8,474.9L395.8,475.0L396.8,475.0L397.8,475.0L398.8,475.1L399.8,475.1L400.8,475.2L401.8,475.2L402.8,475.2L403.8,475.3L404.8,475.3L405.8,475.4L406.8,475.4L407.8,475.4L408.8,475.5L409.8,475.5L410.8,475.6L411.8,475.6L412.8,475.6L413.8,475.7L414.8,475.7L415.8,475.7L416.8,475.8L417.8,475.8L418.8,475.8L419.8,475.9L420.8,475.9L421.8,476.0L422.8,476.0L423.8,476.0L424.8,476.1L425.8,476.1L426.8,476.1L427.8,476.2L428.8,476.2L429.8,476.2L430.8,476.3L431.8,476.3L432.8,476.3L433.8,476.4L434.8,476.4L435.8,476.4L436.8,476.5L437.8,476.5L438.8,476.5L439.8,476.6L440.8,476.6L441.8,476.6L442.8,476.7L443.8,476.7L444.8,476.7L445.8,476.7L446.8,476.8L447.8,476.8L448.8,476.8L449.8,476.9L450.8,476.9L451.8,476.9L452.8,477.0L453.8,477.0L454.8,477.0L455.8,477.0L456.8,477.1L457.8,477.1L458.8,477.1L459.8,477.2L460.8,477.2L461.8,477.2L462.8,477.2L463.8,477.3L464.8,477.3L465.8,477.3L466.8,477.3L467.8,477.4L468.8,477.4L469.8,477.4L470.8,477.4L471.8,477.5L472.8,477.5L473.8,477.5L474.8,477.5L475.8,477.6L476.8,477.6L477.8,477.6L478.8,477.6L479.8,477.7L480.8,477.7L481.8,477.7L482.8,477.7L483.8,477.8L484.8,477.8L485.8,477.8L486.8,477.8L487.8,477.8L488.8,477.9L489.8,477.9L490.8,477.9L491.8,477.9L492.8,477.9L493.8,478.0L494.8,478.0L495.8,478.0L496.8,478.0L497.8,478.0L498.8,478.1L499.8,478.1L500.8,478.1L501.8,478.1L502.8,478.1L503.8,478.1L504.8,478.2L505.8,478.2L506.8,478.2L507.8,478.2L508.8,478.2L509.8,478.2L510.8,478.3L511.8,478.3L512.8,478.3L513.8,478.3L514.8,478.3L515.8,478.3L516.8,478.3L517.8,478.3L518.8,478.4L519.8,478.4L520.8,478.4L521.8,478.4L522.8,478.4L523.8,478.4L524.8,478.4L525.8,478.4L526.8,478.5L527.8,478.5L528.8,478.5L529.8,478.5L530.8,478.5L531.8,478.5L532.8,478.5L533.8,478.5L534.8,478.5L535.8,478.5L536.8,478.6L537.8,478.6L538.8,478.6L539.8,478.6L540.8,478.6L541.8,478.6L542.8,478.6L543.8,478.6L544.8,478.6L545.8,478.6L546.8,478.6L547.8,478.6L548.8,478.6L549.8,478.6L550.8,478.6L551.8,478.6L552.8,478.6L553.8,478.6L554.8,478.6L555.8,478.6L556.8,478.7L557.8,478.7L558.8,478.7L559.8,478.7L560.8,478.7L561.8,478.7L562.8,478.7L563.8,478.7L564.8,478.7L565.8,478.7L566.8,478.7L567.8,478.7L568.8,478.7L569.8,478.7L570.8,478.7L571.8,478.6L572.8,478.6L573.8,478.6L574.8,478.6L575.8,478.6L576.8,478.6L577.8,478.6L578.8,478.6L579.8,478.6L580.8,478.6L581.8,478.6L582.8,478.6L583.8,478.6L584.8,478.6L585.8,478.6L586.8,478.6L587.8,478.6L588.8,478.6L589.8,478.6L590.8,478.6L591.8,478.5L592.8,478.5L593.8,478.5L594.8,478.5L595.8,478.5L596.8,478.5L597.8,478.5L598.8,478.5L599.8,478.5L600.8,478.5L601.8,478.5L602.8,478.4L603.8,478.4L604.8,478.4L605.8,478.4L606.8,478.4L607.8,478.4L608.8,478.4L609.8,478.4L610.8,478.3L611.8,478.3L612.8,478.3L613.8,478.3L614.8,478.3L615.8,478.3L616.8,478.3L617.8,478.3L618.8,478.2L619.8,478.2L620.8,478.2L621.8,478.2L622.8,478.2L623.8,478.2L624.8,478.1L625.8,478.1L626.8,478.1L627.8,478.1L628.8,478.1L629.8,478.1L630.8,478.0L631.8,478.0L632.8,478.0L633.8,478.0L634.8,478.0L635.8,477.9L636.8,477.9L637.8,477.9L638.8,477.9L639.8,477.9L640.8,477.8L641.8,477.8L642.8,477.8L643.8,477.8L644.8,477.8L645.8,477.7L646.8,477.7L647.8,477.7L648.8,477.7L649.8,477.7L650.8,477.6L651.8,477.6L652.8,477.6L653.8,477.6L654.8,477.5L655.8,477.5L656.8,477.5L657.8,477.5L658.8,477.4L659.8,477.4L660.8,477.4L661.8,477.4L662.8,477.3L663.8,477.3L664.8,477.3L665.8,477.3L666.8,477.2L667.8,477.2L668.8,477.2L669.8,477.2L670.8,477.1L671.8,477.1L672.8,477.1L673.8,477.1L674.8,477.0L675.8,477.0L676.8,477.0L677.8,477.0L678.8,476.9L679.8,476.9L680.8,476.9L681.8,476.8L682.8,476.8L683.8,476.8L684.5,476.8" fill="none" stroke="#000000" stroke-width="1.4" stroke-linejoin="round"/>
<path d="M382.8,484.6L383.8,484.6L384.8,484.5L385.8,484.5L386.8,484.4L387.8,484.4L388.8,484.4L389.8,484.3L390.8,484.3L391.8,484.3L392.8,484.2L393.8,484.2L394.8,484.1L395.8,484.1L396.8,484.1L397.8,484.0L398.8,484.0L399.8,484.0L400.8,483.9L401.8,483.9L402.8,483.8L403.8,483.8L404.8,483.8L405.8,483.7L406.8,483.7L407.8,483.7L408.8,483.6L409.8,483.6L410.8,483.6L411.8,483.5L412.8,483.5L413.8,483.5L414.8,483.4L415.8,483.4L416.8,483.4L417.8,483.3L418.8,483.3L419.8,483.3L420.8,483.2L421.8,483.2L422.8,483.2L423.8,483.1L424.8,483.1L425.8,483.1L426.8,483.0L427.8,483.0L428.8,483.0L429.8,482.9L430.8,482.9L431.8,482.9L432.8,482.8L433.8,482.8L434.8,482.8L435.8,482.8L436.8,482.7L437.8,482.7L438.8,482.7L439.8,482.6L440.8,482.6L441.8,482.6L442.8,482.5L443.8,482.5L444.8,482.5L445.8,482.5L446.8,482.4L447.8,482.4L448.8,482.4L449.8,482.4L450.8,482.3L451.8,482.3L452.8,482.3L453.8,482.2L454.8,482.2L455.8,482.2L456.8,482.2L457.8,482.1L458.8,482.1L459.8,482.1L460.8,482.1L461.8,482.0L462.8,482.0L463.8,482.0L464.8,482.0L465.8,481.9L466.8,481.9L467.8,481.9L468.8,481.9L469.8,481.9L470.8,481.8L471.8,481.8L472.8,481.8L473.8,481.8L474.8,481.7L475.8,481.7L476.8,481.7L477.8,481.7L478.8,481.7L479.8,481.6L480.8,481.6L481.8,481.6L482.8,481.6L483.8,481.6L484.8,481.5L485.8,481.5L486.8,481.5L487.8,481.5L488.8,481.5L489.8,481.5L490.8,481.4L491.8,481.4L492.8,481.4L493.8,481.4L494.8,481.4L495.8,481.4L496.8,481.3L497.8,481.3L498.8,481.3L499.8,481.3L500.8,481.3L501.8,481.3L502.8,481.3L503.8,481.2L504.8,481.2L505.8,481.2L506.8,481.2L507.8,481.2L508.8,481.2L509.8,481.2L510.8,481.2L511.8,481.1L512.8,481.1L513.8,481.1L514.8,481.1L515.8,481.1L516.8,481.1L517.8,481.1L518.8,481.1L519.8,481.1L520.8,481.1L521.8,481.0L522.8,481.0L523.8,481.0L524.8,481.0L525.8,481.0L526.8,481.0L527.8,481.0L528.8,481.0L529.8,481.0L530.8,481.0L531.8,481.0L532.8,481.0L533.8,481.0L534.8,481.0L535.8,481.0L536.8,481.0L537.8,481.0L538.8,480.9L539.8,480.9L540.8,480.9L541.8,480.9L542.8,480.9L543.8,480.9L544.8,480.9L545.8,480.9L546.8,480.9L547.8,480.9L548.8,480.9L549.8,480.9L550.8,480.9L551.8,480.9L552.8,480.9L553.8,480.9L554.8,480.9L555.8,480.9L556.8,480.9L557.8,480.9L558.8,480.9L559.8,481.0L560.8,481.0L561.8,481.0L562.8,481.0L563.8,481.0L564.8,481.0L565.8,481.0L566.8,481.0L567.8,481.0L568.8,481.0L569.8,481.0L570.8,481.0L571.8,481.0L572.8,481.0L573.8,481.0L574.8,481.0L575.8,481.1L576.8,481.1L577.8,481.1L578.8,481.1L579.8,481.1L580.8,481.1L581.8,481.1L582.8,481.1L583.8,481.1L584.8,481.2L585.8,481.2L586.8,481.2L587.8,481.2L588.8,481.2L589.8,481.2L590.8,481.2L591.8,481.2L592.8,481.3L593.8,481.3L594.8,481.3L595.8,481.3L596.8,481.3L597.8,481.3L598.8,481.3L599.8,481.4L600.8,481.4L601.8,481.4L602.8,481.4L603.8,481.4L604.8,481.4L605.8,481.5L606.8,481.5L607.8,481.5L608.8,481.5L609.8,481.5L610.8,481.6L611.8,481.6L612.8,481.6L613.8,481.6L614.8,481.6L615.8,481.7L616.8,481.7L617.8,481.7L618.8,481.7L619.8,481.7L620.8,481.8L621.8,481.8L622.8,481.8L623.8,481.8L624.8,481.9L625.8,481.9L626.8,481.9L627.8,481.9L628.8,482.0L629.8,482.0L630.8,482.0L631.8,482.0L632.8,482.1L633.8,482.1L634.8,482.1L635.8,482.1L636.8,482.2L637.8,482.2L638.8,482.2L639.8,482.2L640.8,482.3L641.8,482.3L642.8,482.3L643.8,482.3L644.8,482.4L645.8,482.4L646.8,482.4L647.8,482.5L648.8,482.5L649.8,482.5L650.8,482.5L651.8,482.6L652.8,482.6L653.8,482.6L654.8,482.7L655.8,482.7L656.8,482.7L657.8,482.8L658.8,482.8L659.8,482.8L660.8,482.8L661.8,482.9L662.8,482.9L663.8,482.9L664.8,483.0L665.8,483.0L666.8,483.0L667.8,483.1L668.8,483.1L669.8,483.1L670.8,483.2L671.8,483.2L672.8,483.2L673.8,483.3L674.8,483.3L675.8,483.3L676.8,483.4L677.8,483.4L678.8,483.4L679.8,483.5L680.8,483.5L681.8,483.6L682.8,483.6L683.8,483.6L684.5,483.6" fill="none" stroke="#000000" stroke-width="1.4" stroke-linejoin="round"/>
<path d="M382.8,479.6L383.8,479.6L384.8,479.6L385.8,479.6L386.8,479.6L387.8,479.6L388.8,479.6L389.8,479.6L390.8,479.6L391.8,479.6L392.8,479.6L393.8,479.6L394.8,479.6L395.8,479.6L396.8,479.6L397.8,479.6L398.8,479.6L399.8,479.6L400.8,479.6L401.8,479.6L402.8,479.6L403.8,479.6L404.8,479.6L405.8,479.6L406.8,479.6L407.8,479.6L408.8,479.6L409.8,479.6L410.8,479.6L411.8,479.6L412.8,479.6L413.8,479.6L414.8,479.6L415.8,479.6L416.8,479.6L417.8,479.6L418.8,479.6L419.8,479.6L420.8,479.6L421.8,479.6L422.8,479.6L423.8,479.6L424.8,479.6L425.8,479.6L426.8,479.6L427.8,479.6L428.8,479.6L429.8,479.6L430.8,479.6L431.8,479.6L432.8,479.6L433.8,479.6L434.8,479.6L435.8,479.6L436.8,479.6L437.8,479.6L438.8,479.6L439.8,479.6L440.8,479.6L441.8,479.6L442.8,479.6L443.8,479.6L444.8,479.6L445.8,479.6L446.8,479.6L447.8,479.6L448.8,479.6L449.8,479.6L450.8,479.6L451.8,479.6L452.8,479.6L453.8,479.7L454.8,479.7L455.8,479.7L456.8,479.7L457.8,479.7L458.8,479.7L459.8,479.7L460.8,479.7L461.8,479.7L462.8,479.7L463.8,479.7L464.8,479.7L465.8,479.7L466.8,479.7L467.8,479.7L468.8,479.7L469.8,479.7L470.8,479.7L471.8,479.7L472.8,479.7L473.8,479.7L474.8,479.7L475.8,479.7L476.8,479.7L477.8,479.7L478.8,479.7L479.8,479.7L480.8,479.7L481.8,479.7L482.8,479.7L483.8,479.7L484.8,479.7L485.8,479.7L486.8,479.7L487.8,479.7L488.8,479.7L489.8,479.7L490.8,479.7L491.8,479.7L492.8,479.7L493.8,479.7L494.8,479.7L495.8,479.7L496.8,479.7L497.8,479.7L498.8,479.7L499.8,479.7L500.8,479.7L501.8,479.7L502.8,479.7L503.8,479.7L504.8,479.7L505.8,479.7L506.8,479.7L507.8,479.7L508.8,479.7L509.8,479.7L510.8,479.7L511.8,479.7L512.8,479.7L513.8,479.7L514.8,479.7L515.8,479.7L516.8,479.7L517.8,479.7L518.8,479.7L519.8,479.7L520.8,479.7L521.8,479.7L522.8,479.7L523.8,479.7L524.8,479.7L525.8,479.7L526.8,479.7L527.8,479.7L528.8,479.7L529.8,479.7L530.8,479.7L531.8,479.7L532.8,479.7L533.8,479.7L534.8,479.7L535.8,479.7L536.8,479.7L537.8,479.7L538.8,479.7L539.8,479.7L540.8,479.7L541.8,479.7L542.8,479.7L543.8,479.7L544.8,479.7L545.8,479.7L546.8,479.7L547.8,479.7L548.8,479.7L549.8,479.7L550.8,479.7L551.8,479.7L552.8,479.7L553.8,479.7L554.8,479.7L555.8,479.7L556.8,479.7L557.8,479.7L558.8,479.7L559.8,479.7L560.8,479.7L561.8,479.7L562.8,479.7L563.8,479.7L564.8,479.7L565.8,479.7L566.8,479.7L567.8,479.7L568.8,479.7L569.8,479.7L570.8,479.7L571.8,479.7L572.8,479.7L573.8,479.7L574.8,479.7L575.8,479.7L576.8,479.7L577.8,479.7L578.8,479.7L579.8,479.7L580.8,479.7L581.8,479.7L582.8,479.7L583.8,479.7L584.8,479.7L585.8,479.7L586.8,479.7L587.8,479.7L588.8,479.7L589.8,479.7L590.8,479.7L591.8,479.7L592.8,479.7L593.8,479.7L594.8,479.7L595.8,479.7L596.8,479.7L597.8,479.7L598.8,479.7L599.8,479.7L600.8,479.7L601.8,479.7L602.8,479.7L603.8,479.7L604.8,479.7L605.8,479.7L606.8,479.7L607.8,479.7L608.8,479.7L609.8,479.7L610.8,479.7L611.8,479.7L612.8,479.7L613.8,479.7L614.8,479.7L615.8,479.7L616.8,479.7L617.8,479.7L618.8,479.7L619.8,479.7L620.8,479.7L621.8,479.7L622.8,479.7L623.8,479.7L624.8,479.7L625.8,479.7L626.8,479.7L627.8,479.7L628.8,479.7L629.8,479.7L630.8,479.7L631.8,479.7L632.8,479.7L633.8,479.7L634.8,479.7L635.8,479.7L636.8,479.7L637.8,479.7L638.8,479.7L639.8,479.7L640.8,479.7L641.8,479.7L642.8,479.7L643.8,479.7L644.8,479.7L645.8,479.7L646.8,479.7L647.8,479.7L648.8,479.7L649.8,479.7L650.8,479.7L651.8,479.7L652.8,479.7L653.8,479.7L654.8,479.7L655.8,479.7L656.8,479.7L657.8,479.7L658.8,479.7L659.8,479.7L660.8,479.7L661.8,479.7L662.8,479.7L663.8,479.7L664.8,479.7L665.8,479.7L666.8,479.7L667.8,479.7L668.8,479.7L669.8,479.7L670.8,479.7L671.8,479.7L672.8,479.7L673.8,479.7L674.8,479.7L675.8,479.7L676.8,479.7L677.8,479.7L678.8,479.7L679.8,479.7L680.8,479.7L681.8,479.7L682.8,479.7L683.8,479.7L684.5,479.7" fill="none" stroke="#000000" stroke-width="1.4" stroke-linejoin="round"/>
<rect x="382" y="296" width="303" height="1" fill="#474747"/>
<rect x="382" y="520" width="303" height="1" fill="#bbbbbb"/>
<rect x="382" y="521" width="303" height="1" fill="#6e6e6e"/>
<rect x="382" y="296" width="1" height="226" fill="#858585"/>
<rect x="383" y="296" width="1" height="226" fill="#b0b0b0"/>
<rect x="684" y="296" width="1" height="226" fill="#999999"/>
<line x1="379.0" y1="521.30" x2="382.0" y2="521.30" stroke="#222" stroke-width="1.2"/>
<text x="377.5" y="524.7" font-size="9.2" text-anchor="end">0.00</text>
<line x1="379.0" y1="465.10" x2="382.0" y2="465.10" stroke="#222" stroke-width="1.2"/>
<text x="377.5" y="468.5" font-size="9.2" text-anchor="end">0.25</text>
<line x1="379.0" y1="408.90" x2="382.0" y2="408.90" stroke="#222" stroke-width="1.2"/>
<text x="377.5" y="412.3" font-size="9.2" text-anchor="end">0.50</text>
<line x1="379.0" y1="352.70" x2="382.0" y2="352.70" stroke="#222" stroke-width="1.2"/>
<text x="377.5" y="356.1" font-size="9.2" text-anchor="end">0.75</text>
<line x1="379.0" y1="296.50" x2="382.0" y2="296.50" stroke="#222" stroke-width="1.2"/>
<text x="377.5" y="299.9" font-size="9.2" text-anchor="end">1.00</text>
<line x1="424.2" y1="522.0" x2="424.2" y2="524.4" stroke="#222" stroke-width="1.2"/>
<text x="424.2" y="533.0" font-size="9.2" text-anchor="middle">−4</text>
<line x1="491.0" y1="522.0" x2="491.0" y2="524.4" stroke="#222" stroke-width="1.2"/>
<text x="491.0" y="533.0" font-size="9.2" text-anchor="middle">−2</text>
<line x1="557.8" y1="522.0" x2="557.8" y2="524.4" stroke="#222" stroke-width="1.2"/>
<text x="557.8" y="533.0" font-size="9.2" text-anchor="middle">0</text>
<line x1="624.6" y1="522.0" x2="624.6" y2="524.4" stroke="#222" stroke-width="1.2"/>
<text x="624.6" y="533.0" font-size="9.2" text-anchor="middle">2</text>
<text x="533.6" y="545.1" font-size="10.8" text-anchor="middle">SD of LTL</text>
<text transform="translate(355.8,408.9) rotate(-90)" font-size="10.6" text-anchor="middle">Fecundability</text>
<text x="382.3" y="288.2" font-size="12.8">d) GRS for LTL in men</text>
<path d="M35.5,687.5L36.5,689.0L37.5,690.6L38.5,692.1L39.5,693.6L40.5,695.1L41.5,696.6L42.5,698.0L43.5,699.4L44.5,700.8L45.5,702.2L46.5,703.5L47.5,704.9L48.5,706.2L49.5,707.5L50.5,708.7L51.5,710.0L52.5,711.3L53.5,712.6L54.5,713.9L55.5,715.2L56.5,716.5L57.5,717.9L58.5,719.2L59.5,720.5L60.5,721.9L61.5,723.1L62.5,724.4L63.5,725.6L64.5,726.8L65.5,727.9L66.5,729.0L67.5,730.0L68.5,731.0L69.5,732.0L70.5,732.9L71.5,733.8L72.5,734.6L73.5,735.4L74.5,736.2L75.5,736.9L76.5,737.7L77.5,738.4L78.5,739.0L79.5,739.7L80.5,740.3L81.5,741.0L82.5,741.6L83.5,742.1L84.5,742.7L85.5,743.2L86.5,743.7L87.5,744.2L88.5,744.6L89.5,745.1L90.5,745.5L91.5,745.9L92.5,746.3L93.5,746.6L94.5,747.0L95.5,747.3L96.5,747.6L97.5,748.0L98.5,748.3L99.5,748.6L100.5,748.9L101.5,749.2L102.5,749.5L103.5,749.8L104.5,750.2L105.5,750.5L106.5,750.8L107.5,751.1L108.5,751.4L109.5,751.7L110.5,752.1L111.5,752.4L112.5,752.7L113.5,753.0L114.5,753.3L115.5,753.7L116.5,754.0L117.5,754.3L118.5,754.6L119.5,755.0L120.5,755.3L121.5,755.6L122.5,755.9L123.5,756.2L124.5,756.6L125.5,756.9L126.5,757.2L127.5,757.5L128.5,757.7L129.5,758.0L130.5,758.3L131.5,758.5L132.5,758.8L133.5,759.0L134.5,759.2L135.5,759.4L136.5,759.6L137.5,759.8L138.5,760.0L139.5,760.1L140.5,760.3L141.5,760.4L142.5,760.6L143.5,760.7L144.5,760.8L145.5,760.9L146.5,761.0L147.5,761.0L148.5,761.1L149.5,761.2L150.5,761.3L151.5,761.3L152.5,761.4L153.5,761.5L154.5,761.5L155.5,761.6L156.5,761.6L157.5,761.6L158.5,761.7L159.5,761.7L160.5,761.7L161.5,761.6L162.5,761.6L163.5,761.5L164.5,761.5L165.5,761.4L166.5,761.3L167.5,761.2L168.5,761.0L169.5,760.9L170.5,760.7L171.5,760.6L172.5,760.4L173.5,760.2L174.5,760.0L175.5,759.9L176.5,759.7L177.5,759.5L178.5,759.3L179.5,759.1L180.5,758.9L181.5,758.7L182.5,758.4L183.5,758.2L184.5,757.9L185.5,757.7L186.5,757.4L187.5,757.1L188.5,756.8L189.5,756.5L190.5,756.2L191.5,755.9L192.5,755.6L193.5,755.3L194.5,755.0L195.5,754.8L196.5,754.6L197.5,754.3L198.5,754.1L199.5,753.9L200.5,753.8L201.5,753.6L202.5,753.5L203.5,753.3L204.5,753.2L205.5,753.1L206.5,753.0L207.5,752.9L208.5,752.9L209.5,752.8L210.5,752.8L211.5,752.8L212.5,752.7L213.5,752.8L214.5,752.8L215.5,752.8L216.5,752.9L217.5,752.9L218.5,753.0L219.5,753.1L220.5,753.2L221.5,753.3L222.5,753.4L223.5,753.5L224.5,753.7L225.5,753.8L226.5,754.0L227.5,754.2L228.5,754.3L229.5,754.5L230.5,754.7L231.5,754.9L232.5,755.1L233.5,755.3L234.5,755.5L235.5,755.6L236.5,755.8L237.5,756.0L238.5,756.1L239.5,756.3L240.5,756.4L241.5,756.6L242.5,756.7L243.5,756.8L244.5,756.9L245.5,757.0L246.5,757.1L247.5,757.2L248.5,757.3L249.5,757.4L250.5,757.5L251.5,757.6L252.5,757.7L253.5,757.7L254.5,757.8L255.5,757.9L256.5,757.9L257.5,757.9L258.5,758.0L259.5,758.0L260.5,758.0L261.5,758.0L262.5,758.0L263.5,758.0L264.5,757.9L265.5,757.9L266.5,757.8L267.5,757.8L268.5,757.7L269.5,757.6L270.5,757.6L271.5,757.5L272.5,757.4L273.5,757.2L274.5,757.1L275.5,757.0L276.5,756.8L277.5,756.7L278.5,756.5L279.5,756.4L280.5,756.2L281.5,756.0L282.5,755.8L283.5,755.5L284.5,755.3L285.5,755.0L286.5,754.7L287.5,754.4L288.5,754.0L289.5,753.6L290.5,753.2L291.5,752.8L292.5,752.3L293.5,751.8L294.5,751.2L295.5,750.6L296.5,749.9L297.5,749.3L298.5,748.5L299.5,747.8L300.5,747.0L301.5,746.2L302.5,745.3L303.5,744.5L304.5,743.6L305.5,742.7L306.5,741.7L307.5,740.7L308.5,739.7L309.5,738.7L310.5,737.6L311.5,736.4L312.5,735.2L313.5,734.0L314.5,732.7L315.5,731.4L316.5,730.1L317.5,728.7L318.5,727.3L319.5,725.9L320.5,724.4L321.5,723.0L322.5,721.5L323.5,719.9L324.5,718.4L325.5,716.8L326.5,715.1L327.5,713.5L328.5,711.8L329.5,710.1L330.5,708.4L331.5,706.6L332.5,704.9L333.5,703.1L334.5,701.4L335.5,699.6L336.5,697.9L337.0,697.0L337.0,788.8L336.5,788.7L335.5,788.5L334.5,788.4L333.5,788.2L332.5,788.0L331.5,787.8L330.5,787.6L329.5,787.4L328.5,787.3L327.5,787.1L326.5,786.9L325.5,786.7L324.5,786.5L323.5,786.3L322.5,786.0L321.5,785.8L320.5,785.6L319.5,785.4L318.5,785.1L317.5,784.9L316.5,784.7L315.5,784.4L314.5,784.2L313.5,783.9L312.5,783.6L311.5,783.4L310.5,783.1L309.5,782.8L308.5,782.6L307.5,782.3L306.5,782.0L305.5,781.8L304.5,781.5L303.5,781.2L302.5,781.0L301.5,780.8L300.5,780.5L299.5,780.3L298.5,780.0L297.5,779.8L296.5,779.6L295.5,779.4L294.5,779.2L293.5,779.0L292.5,778.8L291.5,778.7L290.5,778.5L289.5,778.4L288.5,778.2L287.5,778.1L286.5,778.0L285.5,777.9L284.5,777.8L283.5,777.7L282.5,777.6L281.5,777.5L280.5,777.4L279.5,777.3L278.5,777.2L277.5,777.1L276.5,777.0L275.5,776.9L274.5,776.8L273.5,776.7L272.5,776.6L271.5,776.5L270.5,776.3L269.5,776.2L268.5,776.1L267.5,776.0L266.5,775.9L265.5,775.8L264.5,775.6L263.5,775.5L262.5,775.4L261.5,775.3L260.5,775.2L259.5,775.1L258.5,775.0L257.5,774.9L256.5,774.8L255.5,774.6L254.5,774.5L253.5,774.4L252.5,774.3L251.5,774.2L250.5,774.0L249.5,773.9L248.5,773.7L247.5,773.6L246.5,773.5L245.5,773.3L244.5,773.2L243.5,773.0L242.5,772.9L241.5,772.7L240.5,772.5L239.5,772.4L238.5,772.2L237.5,772.1L236.5,771.9L235.5,771.8L234.5,771.6L233.5,771.5L232.5,771.3L231.5,771.2L230.5,771.0L229.5,770.9L228.5,770.8L227.5,770.6L226.5,770.5L225.5,770.4L224.5,770.3L223.5,770.2L222.5,770.1L221.5,770.0L220.5,769.9L219.5,769.9L218.5,769.8L217.5,769.7L216.5,769.7L215.5,769.6L214.5,769.6L213.5,769.6L212.5,769.6L211.5,769.6L210.5,769.6L209.5,769.6L208.5,769.6L207.5,769.6L206.5,769.7L205.5,769.7L204.5,769.8L203.5,769.9L202.5,769.9L201.5,770.0L200.5,770.1L199.5,770.2L198.5,770.4L197.5,770.5L196.5,770.6L195.5,770.8L194.5,770.9L193.5,771.1L192.5,771.2L191.5,771.4L190.5,771.6L189.5,771.8L188.5,772.0L187.5,772.1L186.5,772.3L185.5,772.5L184.5,772.7L183.5,772.9L182.5,773.1L181.5,773.3L180.5,773.4L179.5,773.6L178.5,773.8L177.5,774.0L176.5,774.2L175.5,774.4L174.5,774.5L173.5,774.7L172.5,774.9L171.5,775.1L170.5,775.3L169.5,775.4L168.5,775.6L167.5,775.8L166.5,775.9L165.5,776.1L164.5,776.2L163.5,776.4L162.5,776.5L161.5,776.6L160.5,776.7L159.5,776.9L158.5,776.9L157.5,777.0L156.5,777.1L155.5,777.1L154.5,777.2L153.5,777.2L152.5,777.2L151.5,777.2L150.5,777.2L149.5,777.1L148.5,777.1L147.5,777.0L146.5,776.9L145.5,776.8L144.5,776.8L143.5,776.6L142.5,776.5L141.5,776.4L140.5,776.3L139.5,776.2L138.5,776.1L137.5,775.9L136.5,775.8L135.5,775.7L134.5,775.5L133.5,775.4L132.5,775.3L131.5,775.2L130.5,775.1L129.5,774.9L128.5,774.8L127.5,774.7L126.5,774.6L125.5,774.5L124.5,774.4L123.5,774.4L122.5,774.3L121.5,774.2L120.5,774.1L119.5,774.0L118.5,774.0L117.5,773.9L116.5,773.8L115.5,773.7L114.5,773.7L113.5,773.6L112.5,773.5L111.5,773.4L110.5,773.3L109.5,773.3L108.5,773.2L107.5,773.1L106.5,773.0L105.5,772.9L104.5,772.8L103.5,772.7L102.5,772.5L101.5,772.4L100.5,772.3L99.5,772.2L98.5,772.1L97.5,772.0L96.5,771.9L95.5,771.8L94.5,771.7L93.5,771.6L92.5,771.5L91.5,771.4L90.5,771.3L89.5,771.3L88.5,771.2L87.5,771.1L86.5,771.1L85.5,771.0L84.5,771.0L83.5,771.0L82.5,771.0L81.5,771.0L80.5,771.1L79.5,771.1L78.5,771.2L77.5,771.2L76.5,771.3L75.5,771.4L74.5,771.5L73.5,771.6L72.5,771.7L71.5,771.8L70.5,772.0L69.5,772.1L68.5,772.3L67.5,772.4L66.5,772.6L65.5,772.8L64.5,773.0L63.5,773.2L62.5,773.4L61.5,773.6L60.5,773.9L59.5,774.2L58.5,774.4L57.5,774.7L56.5,775.0L55.5,775.3L54.5,775.6L53.5,775.9L52.5,776.2L51.5,776.6L50.5,776.9L49.5,777.2L48.5,777.5L47.5,777.8L46.5,778.1L45.5,778.5L44.5,778.8L43.5,779.1L42.5,779.4L41.5,779.7L40.5,780.0L39.5,780.3L38.5,780.6L37.5,780.9L36.5,781.2L35.5,781.5Z" fill="#B3D9D0" stroke="none"/>
<path d="M35.5,687.5L36.5,689.0L37.5,690.6L38.5,692.1L39.5,693.6L40.5,695.1L41.5,696.6L42.5,698.0L43.5,699.4L44.5,700.8L45.5,702.2L46.5,703.5L47.5,704.9L48.5,706.2L49.5,707.5L50.5,708.7L51.5,710.0L52.5,711.3L53.5,712.6L54.5,713.9L55.5,715.2L56.5,716.5L57.5,717.9L58.5,719.2L59.5,720.5L60.5,721.9L61.5,723.1L62.5,724.4L63.5,725.6L64.5,726.8L65.5,727.9L66.5,729.0L67.5,730.0L68.5,731.0L69.5,732.0L70.5,732.9L71.5,733.8L72.5,734.6L73.5,735.4L74.5,736.2L75.5,736.9L76.5,737.7L77.5,738.4L78.5,739.0L79.5,739.7L80.5,740.3L81.5,741.0L82.5,741.6L83.5,742.1L84.5,742.7L85.5,743.2L86.5,743.7L87.5,744.2L88.5,744.6L89.5,745.1L90.5,745.5L91.5,745.9L92.5,746.3L93.5,746.6L94.5,747.0L95.5,747.3L96.5,747.6L97.5,748.0L98.5,748.3L99.5,748.6L100.5,748.9L101.5,749.2L102.5,749.5L103.5,749.8L104.5,750.2L105.5,750.5L106.5,750.8L107.5,751.1L108.5,751.4L109.5,751.7L110.5,752.1L111.5,752.4L112.5,752.7L113.5,753.0L114.5,753.3L115.5,753.7L116.5,754.0L117.5,754.3L118.5,754.6L119.5,755.0L120.5,755.3L121.5,755.6L122.5,755.9L123.5,756.2L124.5,756.6L125.5,756.9L126.5,757.2L127.5,757.5L128.5,757.7L129.5,758.0L130.5,758.3L131.5,758.5L132.5,758.8L133.5,759.0L134.5,759.2L135.5,759.4L136.5,759.6L137.5,759.8L138.5,760.0L139.5,760.1L140.5,760.3L141.5,760.4L142.5,760.6L143.5,760.7L144.5,760.8L145.5,760.9L146.5,761.0L147.5,761.0L148.5,761.1L149.5,761.2L150.5,761.3L151.5,761.3L152.5,761.4L153.5,761.5L154.5,761.5L155.5,761.6L156.5,761.6L157.5,761.6L158.5,761.7L159.5,761.7L160.5,761.7L161.5,761.6L162.5,761.6L163.5,761.5L164.5,761.5L165.5,761.4L166.5,761.3L167.5,761.2L168.5,761.0L169.5,760.9L170.5,760.7L171.5,760.6L172.5,760.4L173.5,760.2L174.5,760.0L175.5,759.9L176.5,759.7L177.5,759.5L178.5,759.3L179.5,759.1L180.5,758.9L181.5,758.7L182.5,758.4L183.5,758.2L184.5,757.9L185.5,757.7L186.5,757.4L187.5,757.1L188.5,756.8L189.5,756.5L190.5,756.2L191.5,755.9L192.5,755.6L193.5,755.3L194.5,755.0L195.5,754.8L196.5,754.6L197.5,754.3L198.5,754.1L199.5,753.9L200.5,753.8L201.5,753.6L202.5,753.5L203.5,753.3L204.5,753.2L205.5,753.1L206.5,753.0L207.5,752.9L208.5,752.9L209.5,752.8L210.5,752.8L211.5,752.8L212.5,752.7L213.5,752.8L214.5,752.8L215.5,752.8L216.5,752.9L217.5,752.9L218.5,753.0L219.5,753.1L220.5,753.2L221.5,753.3L222.5,753.4L223.5,753.5L224.5,753.7L225.5,753.8L226.5,754.0L227.5,754.2L228.5,754.3L229.5,754.5L230.5,754.7L231.5,754.9L232.5,755.1L233.5,755.3L234.5,755.5L235.5,755.6L236.5,755.8L237.5,756.0L238.5,756.1L239.5,756.3L240.5,756.4L241.5,756.6L242.5,756.7L243.5,756.8L244.5,756.9L245.5,757.0L246.5,757.1L247.5,757.2L248.5,757.3L249.5,757.4L250.5,757.5L251.5,757.6L252.5,757.7L253.5,757.7L254.5,757.8L255.5,757.9L256.5,757.9L257.5,757.9L258.5,758.0L259.5,758.0L260.5,758.0L261.5,758.0L262.5,758.0L263.5,758.0L264.5,757.9L265.5,757.9L266.5,757.8L267.5,757.8L268.5,757.7L269.5,757.6L270.5,757.6L271.5,757.5L272.5,757.4L273.5,757.2L274.5,757.1L275.5,757.0L276.5,756.8L277.5,756.7L278.5,756.5L279.5,756.4L280.5,756.2L281.5,756.0L282.5,755.8L283.5,755.5L284.5,755.3L285.5,755.0L286.5,754.7L287.5,754.4L288.5,754.0L289.5,753.6L290.5,753.2L291.5,752.8L292.5,752.3L293.5,751.8L294.5,751.2L295.5,750.6L296.5,749.9L297.5,749.3L298.5,748.5L299.5,747.8L300.5,747.0L301.5,746.2L302.5,745.3L303.5,744.5L304.5,743.6L305.5,742.7L306.5,741.7L307.5,740.7L308.5,739.7L309.5,738.7L310.5,737.6L311.5,736.4L312.5,735.2L313.5,734.0L314.5,732.7L315.5,731.4L316.5,730.1L317.5,728.7L318.5,727.3L319.5,725.9L320.5,724.4L321.5,723.0L322.5,721.5L323.5,719.9L324.5,718.4L325.5,716.8L326.5,715.1L327.5,713.5L328.5,711.8L329.5,710.1L330.5,708.4L331.5,706.6L332.5,704.9L333.5,703.1L334.5,701.4L335.5,699.6L336.5,697.9L337.0,697.0" fill="none" stroke="#000000" stroke-width="1.4" stroke-linejoin="round"/>
<path d="M35.5,781.5L36.5,781.2L37.5,780.9L38.5,780.6L39.5,780.3L40.5,780.0L41.5,779.7L42.5,779.4L43.5,779.1L44.5,778.8L45.5,778.5L46.5,778.1L47.5,777.8L48.5,777.5L49.5,777.2L50.5,776.9L51.5,776.6L52.5,776.2L53.5,775.9L54.5,775.6L55.5,775.3L56.5,775.0L57.5,774.7L58.5,774.4L59.5,774.2L60.5,773.9L61.5,773.6L62.5,773.4L63.5,773.2L64.5,773.0L65.5,772.8L66.5,772.6L67.5,772.4L68.5,772.3L69.5,772.1L70.5,772.0L71.5,771.8L72.5,771.7L73.5,771.6L74.5,771.5L75.5,771.4L76.5,771.3L77.5,771.2L78.5,771.2L79.5,771.1L80.5,771.1L81.5,771.0L82.5,771.0L83.5,771.0L84.5,771.0L85.5,771.0L86.5,771.1L87.5,771.1L88.5,771.2L89.5,771.3L90.5,771.3L91.5,771.4L92.5,771.5L93.5,771.6L94.5,771.7L95.5,771.8L96.5,771.9L97.5,772.0L98.5,772.1L99.5,772.2L100.5,772.3L101.5,772.4L102.5,772.5L103.5,772.7L104.5,772.8L105.5,772.9L106.5,773.0L107.5,773.1L108.5,773.2L109.5,773.3L110.5,773.3L111.5,773.4L112.5,773.5L113.5,773.6L114.5,773.7L115.5,773.7L116.5,773.8L117.5,773.9L118.5,774.0L119.5,774.0L120.5,774.1L121.5,774.2L122.5,774.3L123.5,774.4L124.5,774.4L125.5,774.5L126.5,774.6L127.5,774.7L128.5,774.8L129.5,774.9L130.5,775.1L131.5,775.2L132.5,775.3L133.5,775.4L134.5,775.5L135.5,775.7L136.5,775.8L137.5,775.9L138.5,776.1L139.5,776.2L140.5,776.3L141.5,776.4L142.5,776.5L143.5,776.6L144.5,776.8L145.5,776.8L146.5,776.9L147.5,777.0L148.5,777.1L149.5,777.1L150.5,777.2L151.5,777.2L152.5,777.2L153.5,777.2L154.5,777.2L155.5,777.1L156.5,777.1L157.5,777.0L158.5,776.9L159.5,776.9L160.5,776.7L161.5,776.6L162.5,776.5L163.5,776.4L164.5,776.2L165.5,776.1L166.5,775.9L167.5,775.8L168.5,775.6L169.5,775.4L170.5,775.3L171.5,775.1L172.5,774.9L173.5,774.7L174.5,774.5L175.5,774.4L176.5,774.2L177.5,774.0L178.5,773.8L179.5,773.6L180.5,773.4L181.5,773.3L182.5,773.1L183.5,772.9L184.5,772.7L185.5,772.5L186.5,772.3L187.5,772.1L188.5,772.0L189.5,771.8L190.5,771.6L191.5,771.4L192.5,771.2L193.5,771.1L194.5,770.9L195.5,770.8L196.5,770.6L197.5,770.5L198.5,770.4L199.5,770.2L200.5,770.1L201.5,770.0L202.5,769.9L203.5,769.9L204.5,769.8L205.5,769.7L206.5,769.7L207.5,769.6L208.5,769.6L209.5,769.6L210.5,769.6L211.5,769.6L212.5,769.6L213.5,769.6L214.5,769.6L215.5,769.6L216.5,769.7L217.5,769.7L218.5,769.8L219.5,769.9L220.5,769.9L221.5,770.0L222.5,770.1L223.5,770.2L224.5,770.3L225.5,770.4L226.5,770.5L227.5,770.6L228.5,770.8L229.5,770.9L230.5,771.0L231.5,771.2L232.5,771.3L233.5,771.5L234.5,771.6L235.5,771.8L236.5,771.9L237.5,772.1L238.5,772.2L239.5,772.4L240.5,772.5L241.5,772.7L242.5,772.9L243.5,773.0L244.5,773.2L245.5,773.3L246.5,773.5L247.5,773.6L248.5,773.7L249.5,773.9L250.5,774.0L251.5,774.2L252.5,774.3L253.5,774.4L254.5,774.5L255.5,774.6L256.5,774.8L257.5,774.9L258.5,775.0L259.5,775.1L260.5,775.2L261.5,775.3L262.5,775.4L263.5,775.5L264.5,775.6L265.5,775.8L266.5,775.9L267.5,776.0L268.5,776.1L269.5,776.2L270.5,776.3L271.5,776.5L272.5,776.6L273.5,776.7L274.5,776.8L275.5,776.9L276.5,777.0L277.5,777.1L278.5,777.2L279.5,777.3L280.5,777.4L281.5,777.5L282.5,777.6L283.5,777.7L284.5,777.8L285.5,777.9L286.5,778.0L287.5,778.1L288.5,778.2L289.5,778.4L290.5,778.5L291.5,778.7L292.5,778.8L293.5,779.0L294.5,779.2L295.5,779.4L296.5,779.6L297.5,779.8L298.5,780.0L299.5,780.3L300.5,780.5L301.5,780.8L302.5,781.0L303.5,781.2L304.5,781.5L305.5,781.8L306.5,782.0L307.5,782.3L308.5,782.6L309.5,782.8L310.5,783.1L311.5,783.4L312.5,783.6L313.5,783.9L314.5,784.2L315.5,784.4L316.5,784.7L317.5,784.9L318.5,785.1L319.5,785.4L320.5,785.6L321.5,785.8L322.5,786.0L323.5,786.3L324.5,786.5L325.5,786.7L326.5,786.9L327.5,787.1L328.5,787.3L329.5,787.4L330.5,787.6L331.5,787.8L332.5,788.0L333.5,788.2L334.5,788.4L335.5,788.5L336.5,788.7L337.0,788.8" fill="none" stroke="#000000" stroke-width="1.4" stroke-linejoin="round"/>
<path d="M35.5,748.3L36.5,748.6L37.5,748.8L38.5,749.1L39.5,749.3L40.5,749.6L41.5,749.8L42.5,750.1L43.5,750.3L44.5,750.6L45.5,750.9L46.5,751.1L47.5,751.4L48.5,751.6L49.5,751.9L50.5,752.2L51.5,752.4L52.5,752.7L53.5,752.9L54.5,753.2L55.5,753.5L56.5,753.7L57.5,754.0L58.5,754.2L59.5,754.5L60.5,754.8L61.5,755.0L62.5,755.3L63.5,755.6L64.5,755.8L65.5,756.1L66.5,756.4L67.5,756.6L68.5,756.9L69.5,757.1L70.5,757.4L71.5,757.7L72.5,757.9L73.5,758.1L74.5,758.4L75.5,758.6L76.5,758.9L77.5,759.1L78.5,759.3L79.5,759.5L80.5,759.7L81.5,759.9L82.5,760.1L83.5,760.3L84.5,760.5L85.5,760.7L86.5,760.9L87.5,761.0L88.5,761.2L89.5,761.3L90.5,761.5L91.5,761.6L92.5,761.8L93.5,761.9L94.5,762.0L95.5,762.1L96.5,762.3L97.5,762.4L98.5,762.5L99.5,762.6L100.5,762.7L101.5,762.8L102.5,763.0L103.5,763.1L104.5,763.2L105.5,763.3L106.5,763.5L107.5,763.6L108.5,763.8L109.5,763.9L110.5,764.1L111.5,764.3L112.5,764.4L113.5,764.6L114.5,764.8L115.5,765.0L116.5,765.2L117.5,765.4L118.5,765.6L119.5,765.8L120.5,766.0L121.5,766.3L122.5,766.5L123.5,766.7L124.5,766.9L125.5,767.1L126.5,767.3L127.5,767.5L128.5,767.7L129.5,767.9L130.5,768.1L131.5,768.3L132.5,768.5L133.5,768.6L134.5,768.8L135.5,768.9L136.5,769.0L137.5,769.2L138.5,769.3L139.5,769.4L140.5,769.5L141.5,769.6L142.5,769.6L143.5,769.7L144.5,769.8L145.5,769.8L146.5,769.9L147.5,769.9L148.5,769.9L149.5,769.9L150.5,770.0L151.5,770.0L152.5,769.9L153.5,769.9L154.5,769.9L155.5,769.9L156.5,769.8L157.5,769.8L158.5,769.7L159.5,769.6L160.5,769.5L161.5,769.4L162.5,769.3L163.5,769.2L164.5,769.1L165.5,768.9L166.5,768.8L167.5,768.6L168.5,768.5L169.5,768.3L170.5,768.1L171.5,768.0L172.5,767.8L173.5,767.6L174.5,767.4L175.5,767.2L176.5,767.0L177.5,766.8L178.5,766.6L179.5,766.4L180.5,766.2L181.5,766.0L182.5,765.9L183.5,765.7L184.5,765.5L185.5,765.3L186.5,765.2L187.5,765.0L188.5,764.8L189.5,764.7L190.5,764.5L191.5,764.4L192.5,764.2L193.5,764.1L194.5,763.9L195.5,763.8L196.5,763.6L197.5,763.5L198.5,763.3L199.5,763.2L200.5,763.0L201.5,762.9L202.5,762.8L203.5,762.6L204.5,762.5L205.5,762.4L206.5,762.3L207.5,762.2L208.5,762.2L209.5,762.2L210.5,762.1L211.5,762.1L212.5,762.2L213.5,762.2L214.5,762.2L215.5,762.3L216.5,762.4L217.5,762.5L218.5,762.5L219.5,762.6L220.5,762.8L221.5,762.9L222.5,763.0L223.5,763.1L224.5,763.2L225.5,763.4L226.5,763.5L227.5,763.6L228.5,763.8L229.5,764.0L230.5,764.1L231.5,764.3L232.5,764.4L233.5,764.6L234.5,764.8L235.5,764.9L236.5,765.1L237.5,765.3L238.5,765.5L239.5,765.6L240.5,765.8L241.5,766.0L242.5,766.2L243.5,766.3L244.5,766.5L245.5,766.6L246.5,766.8L247.5,766.9L248.5,767.1L249.5,767.2L250.5,767.4L251.5,767.5L252.5,767.6L253.5,767.7L254.5,767.8L255.5,767.9L256.5,768.0L257.5,768.1L258.5,768.2L259.5,768.3L260.5,768.3L261.5,768.4L262.5,768.5L263.5,768.5L264.5,768.6L265.5,768.6L266.5,768.7L267.5,768.7L268.5,768.8L269.5,768.8L270.5,768.8L271.5,768.8L272.5,768.9L273.5,768.9L274.5,768.9L275.5,768.8L276.5,768.8L277.5,768.8L278.5,768.8L279.5,768.7L280.5,768.7L281.5,768.6L282.5,768.5L283.5,768.4L284.5,768.3L285.5,768.3L286.5,768.2L287.5,768.1L288.5,768.0L289.5,767.9L290.5,767.8L291.5,767.7L292.5,767.5L293.5,767.4L294.5,767.3L295.5,767.2L296.5,767.1L297.5,767.0L298.5,766.9L299.5,766.8L300.5,766.6L301.5,766.5L302.5,766.4L303.5,766.2L304.5,766.1L305.5,765.9L306.5,765.8L307.5,765.6L308.5,765.5L309.5,765.3L310.5,765.2L311.5,765.0L312.5,764.9L313.5,764.7L314.5,764.6L315.5,764.4L316.5,764.3L317.5,764.1L318.5,764.0L319.5,763.8L320.5,763.7L321.5,763.6L322.5,763.4L323.5,763.3L324.5,763.2L325.5,763.1L326.5,762.9L327.5,762.8L328.5,762.7L329.5,762.6L330.5,762.5L331.5,762.4L332.5,762.3L333.5,762.2L334.5,762.1L335.5,762.0L336.5,761.9L337.0,761.8" fill="none" stroke="#000000" stroke-width="1.4" stroke-linejoin="round"/>
<rect x="35" y="575" width="303" height="1" fill="#666666"/>
<rect x="35" y="576" width="303" height="1" fill="#e8e8e8"/>
<rect x="35" y="799" width="303" height="1" fill="#999999"/>
<rect x="35" y="800" width="303" height="1" fill="#b8b8b8"/>
<rect x="35" y="575" width="1" height="226" fill="#808080"/>
<rect x="336" y="575" width="1" height="226" fill="#aaaaaa"/>
<rect x="337" y="575" width="1" height="226" fill="#aaaaaa"/>
<line x1="32.0" y1="800.10" x2="35.0" y2="800.10" stroke="#222" stroke-width="1.2"/>
<text x="30.2" y="803.5" font-size="9.2" text-anchor="end">0.00</text>
<line x1="32.0" y1="743.92" x2="35.0" y2="743.92" stroke="#222" stroke-width="1.2"/>
<text x="30.2" y="747.3" font-size="9.2" text-anchor="end">0.25</text>
<line x1="32.0" y1="687.75" x2="35.0" y2="687.75" stroke="#222" stroke-width="1.2"/>
<text x="30.2" y="691.1" font-size="9.2" text-anchor="end">0.50</text>
<line x1="32.0" y1="631.58" x2="35.0" y2="631.58" stroke="#222" stroke-width="1.2"/>
<text x="30.2" y="635.0" font-size="9.2" text-anchor="end">0.75</text>
<line x1="32.0" y1="575.40" x2="35.0" y2="575.40" stroke="#222" stroke-width="1.2"/>
<text x="30.2" y="578.8" font-size="9.2" text-anchor="end">1.00</text>
<line x1="35.1" y1="801.0" x2="35.1" y2="803.4" stroke="#222" stroke-width="1.2"/>
<text x="35.1" y="811.8" font-size="9.2" text-anchor="middle">−3</text>
<line x1="88.4" y1="801.0" x2="88.4" y2="803.4" stroke="#222" stroke-width="1.2"/>
<text x="88.4" y="811.8" font-size="9.2" text-anchor="middle">−2</text>
<line x1="141.6" y1="801.0" x2="141.6" y2="803.4" stroke="#222" stroke-width="1.2"/>
<text x="141.6" y="811.8" font-size="9.2" text-anchor="middle">−1</text>
<line x1="194.9" y1="801.0" x2="194.9" y2="803.4" stroke="#222" stroke-width="1.2"/>
<text x="194.9" y="811.8" font-size="9.2" text-anchor="middle">0</text>
<line x1="248.1" y1="801.0" x2="248.1" y2="803.4" stroke="#222" stroke-width="1.2"/>
<text x="248.1" y="811.8" font-size="9.2" text-anchor="middle">1</text>
<line x1="301.4" y1="801.0" x2="301.4" y2="803.4" stroke="#222" stroke-width="1.2"/>
<text x="301.4" y="811.8" font-size="9.2" text-anchor="middle">2</text>
<text x="186.2" y="823.9" font-size="10.8" text-anchor="middle">SD of LTL</text>
<text transform="translate(7.8,687.8) rotate(-90)" font-size="10.6" text-anchor="middle">Fecundability</text>
<text x="35.0" y="567.1" font-size="12.8">e) Genetically−predicted LTL in women</text>
<path d="M382.8,724.0L383.8,724.6L384.8,725.3L385.8,725.9L386.8,726.5L387.8,727.1L388.8,727.7L389.8,728.3L390.8,728.9L391.8,729.4L392.8,730.0L393.8,730.5L394.8,731.1L395.8,731.6L396.8,732.2L397.8,732.7L398.8,733.2L399.8,733.7L400.8,734.2L401.8,734.7L402.8,735.2L403.8,735.7L404.8,736.2L405.8,736.6L406.8,737.1L407.8,737.6L408.8,738.0L409.8,738.4L410.8,738.9L411.8,739.3L412.8,739.7L413.8,740.2L414.8,740.6L415.8,741.0L416.8,741.4L417.8,741.8L418.8,742.1L419.8,742.5L420.8,742.9L421.8,743.3L422.8,743.6L423.8,744.0L424.8,744.3L425.8,744.7L426.8,745.0L427.8,745.4L428.8,745.7L429.8,746.0L430.8,746.3L431.8,746.7L432.8,747.0L433.8,747.3L434.8,747.6L435.8,747.9L436.8,748.2L437.8,748.5L438.8,748.7L439.8,749.0L440.8,749.3L441.8,749.6L442.8,749.8L443.8,750.1L444.8,750.3L445.8,750.6L446.8,750.8L447.8,751.1L448.8,751.3L449.8,751.6L450.8,751.8L451.8,752.0L452.8,752.3L453.8,752.5L454.8,752.7L455.8,752.9L456.8,753.1L457.8,753.3L458.8,753.6L459.8,753.8L460.8,754.0L461.8,754.2L462.8,754.4L463.8,754.5L464.8,754.7L465.8,754.9L466.8,755.1L467.8,755.3L468.8,755.5L469.8,755.6L470.8,755.8L471.8,756.0L472.8,756.1L473.8,756.3L474.8,756.5L475.8,756.6L476.8,756.8L477.8,756.9L478.8,757.1L479.8,757.2L480.8,757.4L481.8,757.5L482.8,757.7L483.8,757.8L484.8,757.9L485.8,758.1L486.8,758.2L487.8,758.3L488.8,758.5L489.8,758.6L490.8,758.7L491.8,758.8L492.8,758.9L493.8,759.0L494.8,759.1L495.8,759.2L496.8,759.4L497.8,759.5L498.8,759.6L499.8,759.6L500.8,759.7L501.8,759.8L502.8,759.9L503.8,760.0L504.8,760.1L505.8,760.2L506.8,760.2L507.8,760.3L508.8,760.4L509.8,760.5L510.8,760.5L511.8,760.6L512.8,760.7L513.8,760.7L514.8,760.8L515.8,760.8L516.8,760.9L517.8,760.9L518.8,761.0L519.8,761.0L520.8,761.1L521.8,761.1L522.8,761.2L523.8,761.2L524.8,761.2L525.8,761.3L526.8,761.3L527.8,761.3L528.8,761.3L529.8,761.4L530.8,761.4L531.8,761.4L532.8,761.4L533.8,761.4L534.8,761.4L535.8,761.4L536.8,761.4L537.8,761.5L538.8,761.5L539.8,761.5L540.8,761.4L541.8,761.4L542.8,761.4L543.8,761.4L544.8,761.4L545.8,761.4L546.8,761.4L547.8,761.4L548.8,761.3L549.8,761.3L550.8,761.3L551.8,761.3L552.8,761.2L553.8,761.2L554.8,761.2L555.8,761.1L556.8,761.1L557.8,761.0L558.8,761.0L559.8,761.0L560.8,760.9L561.8,760.8L562.8,760.8L563.8,760.7L564.8,760.7L565.8,760.6L566.8,760.5L567.8,760.5L568.8,760.4L569.8,760.3L570.8,760.3L571.8,760.2L572.8,760.1L573.8,760.0L574.8,759.9L575.8,759.8L576.8,759.7L577.8,759.7L578.8,759.6L579.8,759.5L580.8,759.4L581.8,759.3L582.8,759.1L583.8,759.0L584.8,758.9L585.8,758.8L586.8,758.7L587.8,758.6L588.8,758.4L589.8,758.3L590.8,758.2L591.8,758.0L592.8,757.9L593.8,757.8L594.8,757.6L595.8,757.5L596.8,757.3L597.8,757.2L598.8,757.0L599.8,756.9L600.8,756.7L601.8,756.6L602.8,756.4L603.8,756.2L604.8,756.1L605.8,755.9L606.8,755.7L607.8,755.5L608.8,755.3L609.8,755.2L610.8,755.0L611.8,754.8L612.8,754.6L613.8,754.4L614.8,754.2L615.8,754.0L616.8,753.8L617.8,753.6L618.8,753.3L619.8,753.1L620.8,752.9L621.8,752.7L622.8,752.4L623.8,752.2L624.8,752.0L625.8,751.8L626.8,751.5L627.8,751.3L628.8,751.0L629.8,750.8L630.8,750.5L631.8,750.3L632.8,750.0L633.8,749.7L634.8,749.5L635.8,749.2L636.8,748.9L637.8,748.7L638.8,748.4L639.8,748.1L640.8,747.8L641.8,747.6L642.8,747.3L643.8,747.0L644.8,746.7L645.8,746.4L646.8,746.1L647.8,745.8L648.8,745.5L649.8,745.2L650.8,744.9L651.8,744.5L652.8,744.2L653.8,743.9L654.8,743.6L655.8,743.3L656.8,742.9L657.8,742.6L658.8,742.3L659.8,741.9L660.8,741.6L661.8,741.3L662.8,740.9L663.8,740.6L664.8,740.2L665.8,739.9L666.8,739.5L667.8,739.2L668.8,738.8L669.8,738.5L670.8,738.1L671.8,737.7L672.8,737.4L673.8,737.0L674.8,736.6L675.8,736.3L676.8,735.9L677.8,735.5L678.8,735.1L679.8,734.7L680.8,734.3L681.8,734.0L682.8,733.6L683.8,733.2L684.5,732.9L684.5,784.1L683.8,784.0L682.8,783.9L681.8,783.8L680.8,783.7L679.8,783.6L678.8,783.4L677.8,783.3L676.8,783.2L675.8,783.1L674.8,783.0L673.8,782.8L672.8,782.7L671.8,782.6L670.8,782.5L669.8,782.4L668.8,782.2L667.8,782.1L666.8,782.0L665.8,781.9L664.8,781.8L663.8,781.6L662.8,781.5L661.8,781.4L660.8,781.3L659.8,781.2L658.8,781.0L657.8,780.9L656.8,780.8L655.8,780.7L654.8,780.6L653.8,780.5L652.8,780.3L651.8,780.2L650.8,780.1L649.8,780.0L648.8,779.9L647.8,779.8L646.8,779.6L645.8,779.5L644.8,779.4L643.8,779.3L642.8,779.2L641.8,779.1L640.8,779.0L639.8,778.9L638.8,778.7L637.8,778.6L636.8,778.5L635.8,778.4L634.8,778.3L633.8,778.2L632.8,778.1L631.8,778.0L630.8,777.9L629.8,777.8L628.8,777.7L627.8,777.6L626.8,777.5L625.8,777.4L624.8,777.3L623.8,777.2L622.8,777.1L621.8,777.0L620.8,776.9L619.8,776.8L618.8,776.7L617.8,776.6L616.8,776.5L615.8,776.4L614.8,776.3L613.8,776.2L612.8,776.1L611.8,776.0L610.8,775.9L609.8,775.8L608.8,775.7L607.8,775.7L606.8,775.6L605.8,775.5L604.8,775.4L603.8,775.3L602.8,775.2L601.8,775.1L600.8,775.1L599.8,775.0L598.8,774.9L597.8,774.8L596.8,774.7L595.8,774.7L594.8,774.6L593.8,774.5L592.8,774.4L591.8,774.4L590.8,774.3L589.8,774.2L588.8,774.1L587.8,774.1L586.8,774.0L585.8,773.9L584.8,773.9L583.8,773.8L582.8,773.7L581.8,773.7L580.8,773.6L579.8,773.5L578.8,773.5L577.8,773.4L576.8,773.4L575.8,773.3L574.8,773.2L573.8,773.2L572.8,773.1L571.8,773.1L570.8,773.0L569.8,773.0L568.8,772.9L567.8,772.8L566.8,772.8L565.8,772.7L564.8,772.7L563.8,772.6L562.8,772.6L561.8,772.5L560.8,772.5L559.8,772.4L558.8,772.4L557.8,772.3L556.8,772.3L555.8,772.3L554.8,772.2L553.8,772.2L552.8,772.1L551.8,772.1L550.8,772.0L549.8,772.0L548.8,772.0L547.8,771.9L546.8,771.9L545.8,771.8L544.8,771.8L543.8,771.8L542.8,771.7L541.8,771.7L540.8,771.7L539.8,771.6L538.8,771.6L537.8,771.6L536.8,771.5L535.8,771.5L534.8,771.5L533.8,771.4L532.8,771.4L531.8,771.4L530.8,771.3L529.8,771.3L528.8,771.3L527.8,771.3L526.8,771.2L525.8,771.2L524.8,771.2L523.8,771.2L522.8,771.1L521.8,771.1L520.8,771.1L519.8,771.1L518.8,771.1L517.8,771.0L516.8,771.0L515.8,771.0L514.8,771.0L513.8,771.0L512.8,771.0L511.8,771.0L510.8,770.9L509.8,770.9L508.8,770.9L507.8,770.9L506.8,770.9L505.8,770.9L504.8,770.9L503.8,770.9L502.8,770.9L501.8,770.9L500.8,770.9L499.8,770.9L498.8,770.9L497.8,770.9L496.8,770.9L495.8,770.9L494.8,770.9L493.8,770.9L492.8,770.9L491.8,770.9L490.8,770.9L489.8,770.9L488.8,770.9L487.8,771.0L486.8,771.0L485.8,771.0L484.8,771.0L483.8,771.0L482.8,771.0L481.8,771.0L480.8,771.1L479.8,771.1L478.8,771.1L477.8,771.1L476.8,771.2L475.8,771.2L474.8,771.2L473.8,771.2L472.8,771.3L471.8,771.3L470.8,771.3L469.8,771.4L468.8,771.4L467.8,771.4L466.8,771.5L465.8,771.5L464.8,771.5L463.8,771.6L462.8,771.6L461.8,771.7L460.8,771.7L459.8,771.8L458.8,771.8L457.8,771.8L456.8,771.9L455.8,771.9L454.8,772.0L453.8,772.1L452.8,772.1L451.8,772.2L450.8,772.2L449.8,772.3L448.8,772.3L447.8,772.4L446.8,772.5L445.8,772.5L444.8,772.6L443.8,772.7L442.8,772.7L441.8,772.8L440.8,772.9L439.8,772.9L438.8,773.0L437.8,773.1L436.8,773.2L435.8,773.2L434.8,773.3L433.8,773.4L432.8,773.5L431.8,773.6L430.8,773.7L429.8,773.8L428.8,773.8L427.8,773.9L426.8,774.0L425.8,774.1L424.8,774.2L423.8,774.3L422.8,774.4L421.8,774.5L420.8,774.6L419.8,774.7L418.8,774.8L417.8,774.9L416.8,775.0L415.8,775.1L414.8,775.3L413.8,775.4L412.8,775.5L411.8,775.6L410.8,775.7L409.8,775.8L408.8,776.0L407.8,776.1L406.8,776.2L405.8,776.3L404.8,776.5L403.8,776.6L402.8,776.7L401.8,776.9L400.8,777.0L399.8,777.1L398.8,777.3L397.8,777.4L396.8,777.6L395.8,777.7L394.8,777.8L393.8,778.0L392.8,778.1L391.8,778.3L390.8,778.4L389.8,778.6L388.8,778.8L387.8,778.9L386.8,779.1L385.8,779.2L384.8,779.4L383.8,779.6L382.8,779.7Z" fill="#C5E2DB" stroke="none"/>
<path d="M382.8,724.0L383.8,724.6L384.8,725.3L385.8,725.9L386.8,726.5L387.8,727.1L388.8,727.7L389.8,728.3L390.8,728.9L391.8,729.4L392.8,730.0L393.8,730.5L394.8,731.1L395.8,731.6L396.8,732.2L397.8,732.7L398.8,733.2L399.8,733.7L400.8,734.2L401.8,734.7L402.8,735.2L403.8,735.7L404.8,736.2L405.8,736.6L406.8,737.1L407.8,737.6L408.8,738.0L409.8,738.4L410.8,738.9L411.8,739.3L412.8,739.7L413.8,740.2L414.8,740.6L415.8,741.0L416.8,741.4L417.8,741.8L418.8,742.1L419.8,742.5L420.8,742.9L421.8,743.3L422.8,743.6L423.8,744.0L424.8,744.3L425.8,744.7L426.8,745.0L427.8,745.4L428.8,745.7L429.8,746.0L430.8,746.3L431.8,746.7L432.8,747.0L433.8,747.3L434.8,747.6L435.8,747.9L436.8,748.2L437.8,748.5L438.8,748.7L439.8,749.0L440.8,749.3L441.8,749.6L442.8,749.8L443.8,750.1L444.8,750.3L445.8,750.6L446.8,750.8L447.8,751.1L448.8,751.3L449.8,751.6L450.8,751.8L451.8,752.0L452.8,752.3L453.8,752.5L454.8,752.7L455.8,752.9L456.8,753.1L457.8,753.3L458.8,753.6L459.8,753.8L460.8,754.0L461.8,754.2L462.8,754.4L463.8,754.5L464.8,754.7L465.8,754.9L466.8,755.1L467.8,755.3L468.8,755.5L469.8,755.6L470.8,755.8L471.8,756.0L472.8,756.1L473.8,756.3L474.8,756.5L475.8,756.6L476.8,756.8L477.8,756.9L478.8,757.1L479.8,757.2L480.8,757.4L481.8,757.5L482.8,757.7L483.8,757.8L484.8,757.9L485.8,758.1L486.8,758.2L487.8,758.3L488.8,758.5L489.8,758.6L490.8,758.7L491.8,758.8L492.8,758.9L493.8,759.0L494.8,759.1L495.8,759.2L496.8,759.4L497.8,759.5L498.8,759.6L499.8,759.6L500.8,759.7L501.8,759.8L502.8,759.9L503.8,760.0L504.8,760.1L505.8,760.2L506.8,760.2L507.8,760.3L508.8,760.4L509.8,760.5L510.8,760.5L511.8,760.6L512.8,760.7L513.8,760.7L514.8,760.8L515.8,760.8L516.8,760.9L517.8,760.9L518.8,761.0L519.8,761.0L520.8,761.1L521.8,761.1L522.8,761.2L523.8,761.2L524.8,761.2L525.8,761.3L526.8,761.3L527.8,761.3L528.8,761.3L529.8,761.4L530.8,761.4L531.8,761.4L532.8,761.4L533.8,761.4L534.8,761.4L535.8,761.4L536.8,761.4L537.8,761.5L538.8,761.5L539.8,761.5L540.8,761.4L541.8,761.4L542.8,761.4L543.8,761.4L544.8,761.4L545.8,761.4L546.8,761.4L547.8,761.4L548.8,761.3L549.8,761.3L550.8,761.3L551.8,761.3L552.8,761.2L553.8,761.2L554.8,761.2L555.8,761.1L556.8,761.1L557.8,761.0L558.8,761.0L559.8,761.0L560.8,760.9L561.8,760.8L562.8,760.8L563.8,760.7L564.8,760.7L565.8,760.6L566.8,760.5L567.8,760.5L568.8,760.4L569.8,760.3L570.8,760.3L571.8,760.2L572.8,760.1L573.8,760.0L574.8,759.9L575.8,759.8L576.8,759.7L577.8,759.7L578.8,759.6L579.8,759.5L580.8,759.4L581.8,759.3L582.8,759.1L583.8,759.0L584.8,758.9L585.8,758.8L586.8,758.7L587.8,758.6L588.8,758.4L589.8,758.3L590.8,758.2L591.8,758.0L592.8,757.9L593.8,757.8L594.8,757.6L595.8,757.5L596.8,757.3L597.8,757.2L598.8,757.0L599.8,756.9L600.8,756.7L601.8,756.6L602.8,756.4L603.8,756.2L604.8,756.1L605.8,755.9L606.8,755.7L607.8,755.5L608.8,755.3L609.8,755.2L610.8,755.0L611.8,754.8L612.8,754.6L613.8,754.4L614.8,754.2L615.8,754.0L616.8,753.8L617.8,753.6L618.8,753.3L619.8,753.1L620.8,752.9L621.8,752.7L622.8,752.4L623.8,752.2L624.8,752.0L625.8,751.8L626.8,751.5L627.8,751.3L628.8,751.0L629.8,750.8L630.8,750.5L631.8,750.3L632.8,750.0L633.8,749.7L634.8,749.5L635.8,749.2L636.8,748.9L637.8,748.7L638.8,748.4L639.8,748.1L640.8,747.8L641.8,747.6L642.8,747.3L643.8,747.0L644.8,746.7L645.8,746.4L646.8,746.1L647.8,745.8L648.8,745.5L649.8,745.2L650.8,744.9L651.8,744.5L652.8,744.2L653.8,743.9L654.8,743.6L655.8,743.3L656.8,742.9L657.8,742.6L658.8,742.3L659.8,741.9L660.8,741.6L661.8,741.3L662.8,740.9L663.8,740.6L664.8,740.2L665.8,739.9L666.8,739.5L667.8,739.2L668.8,738.8L669.8,738.5L670.8,738.1L671.8,737.7L672.8,737.4L673.8,737.0L674.8,736.6L675.8,736.3L676.8,735.9L677.8,735.5L678.8,735.1L679.8,734.7L680.8,734.3L681.8,734.0L682.8,733.6L683.8,733.2L684.5,732.9" fill="none" stroke="#000000" stroke-width="1.4" stroke-linejoin="round"/>
<path d="M382.8,779.7L383.8,779.6L384.8,779.4L385.8,779.2L386.8,779.1L387.8,778.9L388.8,778.8L389.8,778.6L390.8,778.4L391.8,778.3L392.8,778.1L393.8,778.0L394.8,777.8L395.8,777.7L396.8,777.6L397.8,777.4L398.8,777.3L399.8,777.1L400.8,777.0L401.8,776.9L402.8,776.7L403.8,776.6L404.8,776.5L405.8,776.3L406.8,776.2L407.8,776.1L408.8,776.0L409.8,775.8L410.8,775.7L411.8,775.6L412.8,775.5L413.8,775.4L414.8,775.3L415.8,775.1L416.8,775.0L417.8,774.9L418.8,774.8L419.8,774.7L420.8,774.6L421.8,774.5L422.8,774.4L423.8,774.3L424.8,774.2L425.8,774.1L426.8,774.0L427.8,773.9L428.8,773.8L429.8,773.8L430.8,773.7L431.8,773.6L432.8,773.5L433.8,773.4L434.8,773.3L435.8,773.2L436.8,773.2L437.8,773.1L438.8,773.0L439.8,772.9L440.8,772.9L441.8,772.8L442.8,772.7L443.8,772.7L444.8,772.6L445.8,772.5L446.8,772.5L447.8,772.4L448.8,772.3L449.8,772.3L450.8,772.2L451.8,772.2L452.8,772.1L453.8,772.1L454.8,772.0L455.8,771.9L456.8,771.9L457.8,771.8L458.8,771.8L459.8,771.8L460.8,771.7L461.8,771.7L462.8,771.6L463.8,771.6L464.8,771.5L465.8,771.5L466.8,771.5L467.8,771.4L468.8,771.4L469.8,771.4L470.8,771.3L471.8,771.3L472.8,771.3L473.8,771.2L474.8,771.2L475.8,771.2L476.8,771.2L477.8,771.1L478.8,771.1L479.8,771.1L480.8,771.1L481.8,771.0L482.8,771.0L483.8,771.0L484.8,771.0L485.8,771.0L486.8,771.0L487.8,771.0L488.8,770.9L489.8,770.9L490.8,770.9L491.8,770.9L492.8,770.9L493.8,770.9L494.8,770.9L495.8,770.9L496.8,770.9L497.8,770.9L498.8,770.9L499.8,770.9L500.8,770.9L501.8,770.9L502.8,770.9L503.8,770.9L504.8,770.9L505.8,770.9L506.8,770.9L507.8,770.9L508.8,770.9L509.8,770.9L510.8,770.9L511.8,771.0L512.8,771.0L513.8,771.0L514.8,771.0L515.8,771.0L516.8,771.0L517.8,771.0L518.8,771.1L519.8,771.1L520.8,771.1L521.8,771.1L522.8,771.1L523.8,771.2L524.8,771.2L525.8,771.2L526.8,771.2L527.8,771.3L528.8,771.3L529.8,771.3L530.8,771.3L531.8,771.4L532.8,771.4L533.8,771.4L534.8,771.5L535.8,771.5L536.8,771.5L537.8,771.6L538.8,771.6L539.8,771.6L540.8,771.7L541.8,771.7L542.8,771.7L543.8,771.8L544.8,771.8L545.8,771.8L546.8,771.9L547.8,771.9L548.8,772.0L549.8,772.0L550.8,772.0L551.8,772.1L552.8,772.1L553.8,772.2L554.8,772.2L555.8,772.3L556.8,772.3L557.8,772.3L558.8,772.4L559.8,772.4L560.8,772.5L561.8,772.5L562.8,772.6L563.8,772.6L564.8,772.7L565.8,772.7L566.8,772.8L567.8,772.8L568.8,772.9L569.8,773.0L570.8,773.0L571.8,773.1L572.8,773.1L573.8,773.2L574.8,773.2L575.8,773.3L576.8,773.4L577.8,773.4L578.8,773.5L579.8,773.5L580.8,773.6L581.8,773.7L582.8,773.7L583.8,773.8L584.8,773.9L585.8,773.9L586.8,774.0L587.8,774.1L588.8,774.1L589.8,774.2L590.8,774.3L591.8,774.4L592.8,774.4L593.8,774.5L594.8,774.6L595.8,774.7L596.8,774.7L597.8,774.8L598.8,774.9L599.8,775.0L600.8,775.1L601.8,775.1L602.8,775.2L603.8,775.3L604.8,775.4L605.8,775.5L606.8,775.6L607.8,775.7L608.8,775.7L609.8,775.8L610.8,775.9L611.8,776.0L612.8,776.1L613.8,776.2L614.8,776.3L615.8,776.4L616.8,776.5L617.8,776.6L618.8,776.7L619.8,776.8L620.8,776.9L621.8,777.0L622.8,777.1L623.8,777.2L624.8,777.3L625.8,777.4L626.8,777.5L627.8,777.6L628.8,777.7L629.8,777.8L630.8,777.9L631.8,778.0L632.8,778.1L633.8,778.2L634.8,778.3L635.8,778.4L636.8,778.5L637.8,778.6L638.8,778.7L639.8,778.9L640.8,779.0L641.8,779.1L642.8,779.2L643.8,779.3L644.8,779.4L645.8,779.5L646.8,779.6L647.8,779.8L648.8,779.9L649.8,780.0L650.8,780.1L651.8,780.2L652.8,780.3L653.8,780.5L654.8,780.6L655.8,780.7L656.8,780.8L657.8,780.9L658.8,781.0L659.8,781.2L660.8,781.3L661.8,781.4L662.8,781.5L663.8,781.6L664.8,781.8L665.8,781.9L666.8,782.0L667.8,782.1L668.8,782.2L669.8,782.4L670.8,782.5L671.8,782.6L672.8,782.7L673.8,782.8L674.8,783.0L675.8,783.1L676.8,783.2L677.8,783.3L678.8,783.4L679.8,783.6L680.8,783.7L681.8,783.8L682.8,783.9L683.8,784.0L684.5,784.1" fill="none" stroke="#000000" stroke-width="1.4" stroke-linejoin="round"/>
<path d="M382.8,758.7L383.8,758.8L384.8,758.8L385.8,758.9L386.8,759.0L387.8,759.1L388.8,759.1L389.8,759.2L390.8,759.3L391.8,759.4L392.8,759.4L393.8,759.5L394.8,759.6L395.8,759.6L396.8,759.7L397.8,759.8L398.8,759.9L399.8,759.9L400.8,760.0L401.8,760.1L402.8,760.1L403.8,760.2L404.8,760.3L405.8,760.4L406.8,760.4L407.8,760.5L408.8,760.6L409.8,760.6L410.8,760.7L411.8,760.8L412.8,760.8L413.8,760.9L414.8,761.0L415.8,761.0L416.8,761.1L417.8,761.2L418.8,761.2L419.8,761.3L420.8,761.3L421.8,761.4L422.8,761.5L423.8,761.5L424.8,761.6L425.8,761.7L426.8,761.7L427.8,761.8L428.8,761.8L429.8,761.9L430.8,762.0L431.8,762.0L432.8,762.1L433.8,762.1L434.8,762.2L435.8,762.3L436.8,762.3L437.8,762.4L438.8,762.4L439.8,762.5L440.8,762.5L441.8,762.6L442.8,762.7L443.8,762.7L444.8,762.8L445.8,762.8L446.8,762.9L447.8,762.9L448.8,763.0L449.8,763.0L450.8,763.1L451.8,763.1L452.8,763.2L453.8,763.3L454.8,763.3L455.8,763.4L456.8,763.4L457.8,763.5L458.8,763.5L459.8,763.6L460.8,763.6L461.8,763.7L462.8,763.7L463.8,763.8L464.8,763.8L465.8,763.8L466.8,763.9L467.8,763.9L468.8,764.0L469.8,764.0L470.8,764.1L471.8,764.1L472.8,764.2L473.8,764.2L474.8,764.3L475.8,764.3L476.8,764.3L477.8,764.4L478.8,764.4L479.8,764.5L480.8,764.5L481.8,764.6L482.8,764.6L483.8,764.6L484.8,764.7L485.8,764.7L486.8,764.8L487.8,764.8L488.8,764.8L489.8,764.9L490.8,764.9L491.8,765.0L492.8,765.0L493.8,765.0L494.8,765.1L495.8,765.1L496.8,765.1L497.8,765.2L498.8,765.2L499.8,765.2L500.8,765.3L501.8,765.3L502.8,765.3L503.8,765.4L504.8,765.4L505.8,765.4L506.8,765.5L507.8,765.5L508.8,765.5L509.8,765.6L510.8,765.6L511.8,765.6L512.8,765.7L513.8,765.7L514.8,765.7L515.8,765.8L516.8,765.8L517.8,765.8L518.8,765.8L519.8,765.9L520.8,765.9L521.8,765.9L522.8,765.9L523.8,766.0L524.8,766.0L525.8,766.0L526.8,766.1L527.8,766.1L528.8,766.1L529.8,766.1L530.8,766.1L531.8,766.2L532.8,766.2L533.8,766.2L534.8,766.2L535.8,766.3L536.8,766.3L537.8,766.3L538.8,766.3L539.8,766.3L540.8,766.4L541.8,766.4L542.8,766.4L543.8,766.4L544.8,766.4L545.8,766.5L546.8,766.5L547.8,766.5L548.8,766.5L549.8,766.5L550.8,766.5L551.8,766.5L552.8,766.6L553.8,766.6L554.8,766.6L555.8,766.6L556.8,766.6L557.8,766.6L558.8,766.6L559.8,766.7L560.8,766.7L561.8,766.7L562.8,766.7L563.8,766.7L564.8,766.7L565.8,766.7L566.8,766.7L567.8,766.7L568.8,766.8L569.8,766.8L570.8,766.8L571.8,766.8L572.8,766.8L573.8,766.8L574.8,766.8L575.8,766.8L576.8,766.8L577.8,766.8L578.8,766.8L579.8,766.8L580.8,766.8L581.8,766.8L582.8,766.8L583.8,766.8L584.8,766.8L585.8,766.8L586.8,766.8L587.8,766.8L588.8,766.8L589.8,766.8L590.8,766.8L591.8,766.8L592.8,766.8L593.8,766.8L594.8,766.8L595.8,766.8L596.8,766.8L597.8,766.8L598.8,766.8L599.8,766.8L600.8,766.8L601.8,766.8L602.8,766.8L603.8,766.8L604.8,766.8L605.8,766.8L606.8,766.8L607.8,766.8L608.8,766.8L609.8,766.8L610.8,766.8L611.8,766.8L612.8,766.7L613.8,766.7L614.8,766.7L615.8,766.7L616.8,766.7L617.8,766.7L618.8,766.7L619.8,766.7L620.8,766.7L621.8,766.7L622.8,766.6L623.8,766.6L624.8,766.6L625.8,766.6L626.8,766.6L627.8,766.6L628.8,766.6L629.8,766.5L630.8,766.5L631.8,766.5L632.8,766.5L633.8,766.5L634.8,766.5L635.8,766.4L636.8,766.4L637.8,766.4L638.8,766.4L639.8,766.4L640.8,766.3L641.8,766.3L642.8,766.3L643.8,766.3L644.8,766.3L645.8,766.2L646.8,766.2L647.8,766.2L648.8,766.2L649.8,766.2L650.8,766.1L651.8,766.1L652.8,766.1L653.8,766.1L654.8,766.0L655.8,766.0L656.8,766.0L657.8,765.9L658.8,765.9L659.8,765.9L660.8,765.9L661.8,765.8L662.8,765.8L663.8,765.8L664.8,765.7L665.8,765.7L666.8,765.7L667.8,765.7L668.8,765.6L669.8,765.6L670.8,765.6L671.8,765.5L672.8,765.5L673.8,765.5L674.8,765.4L675.8,765.4L676.8,765.4L677.8,765.3L678.8,765.3L679.8,765.3L680.8,765.2L681.8,765.2L682.8,765.1L683.8,765.1L684.5,765.1" fill="none" stroke="#000000" stroke-width="1.4" stroke-linejoin="round"/>
<rect x="382" y="575" width="303" height="1" fill="#666666"/>
<rect x="382" y="576" width="303" height="1" fill="#e8e8e8"/>
<rect x="382" y="799" width="303" height="1" fill="#999999"/>
<rect x="382" y="800" width="303" height="1" fill="#b8b8b8"/>
<rect x="382" y="575" width="1" height="226" fill="#858585"/>
<rect x="383" y="575" width="1" height="226" fill="#b0b0b0"/>
<rect x="684" y="575" width="1" height="226" fill="#999999"/>
<line x1="379.0" y1="800.10" x2="382.0" y2="800.10" stroke="#222" stroke-width="1.2"/>
<text x="377.5" y="803.5" font-size="9.2" text-anchor="end">0.00</text>
<line x1="379.0" y1="743.92" x2="382.0" y2="743.92" stroke="#222" stroke-width="1.2"/>
<text x="377.5" y="747.3" font-size="9.2" text-anchor="end">0.25</text>
<line x1="379.0" y1="687.75" x2="382.0" y2="687.75" stroke="#222" stroke-width="1.2"/>
<text x="377.5" y="691.1" font-size="9.2" text-anchor="end">0.50</text>
<line x1="379.0" y1="631.58" x2="382.0" y2="631.58" stroke="#222" stroke-width="1.2"/>
<text x="377.5" y="635.0" font-size="9.2" text-anchor="end">0.75</text>
<line x1="379.0" y1="575.40" x2="382.0" y2="575.40" stroke="#222" stroke-width="1.2"/>
<text x="377.5" y="578.8" font-size="9.2" text-anchor="end">1.00</text>
<line x1="447.3" y1="801.0" x2="447.3" y2="803.4" stroke="#222" stroke-width="1.2"/>
<text x="447.3" y="811.8" font-size="9.2" text-anchor="middle">−2</text>
<line x1="537.1" y1="801.0" x2="537.1" y2="803.4" stroke="#222" stroke-width="1.2"/>
<text x="537.1" y="811.8" font-size="9.2" text-anchor="middle">0</text>
<line x1="627.0" y1="801.0" x2="627.0" y2="803.4" stroke="#222" stroke-width="1.2"/>
<text x="627.0" y="811.8" font-size="9.2" text-anchor="middle">2</text>
<text x="533.6" y="823.9" font-size="10.8" text-anchor="middle">SD of LTL</text>
<text transform="translate(355.8,687.8) rotate(-90)" font-size="10.6" text-anchor="middle">Fecundability</text>
<text x="382.3" y="567.1" font-size="12.8">f) Genetically−predicted LTL in men</text>
</svg>
</body></html>
